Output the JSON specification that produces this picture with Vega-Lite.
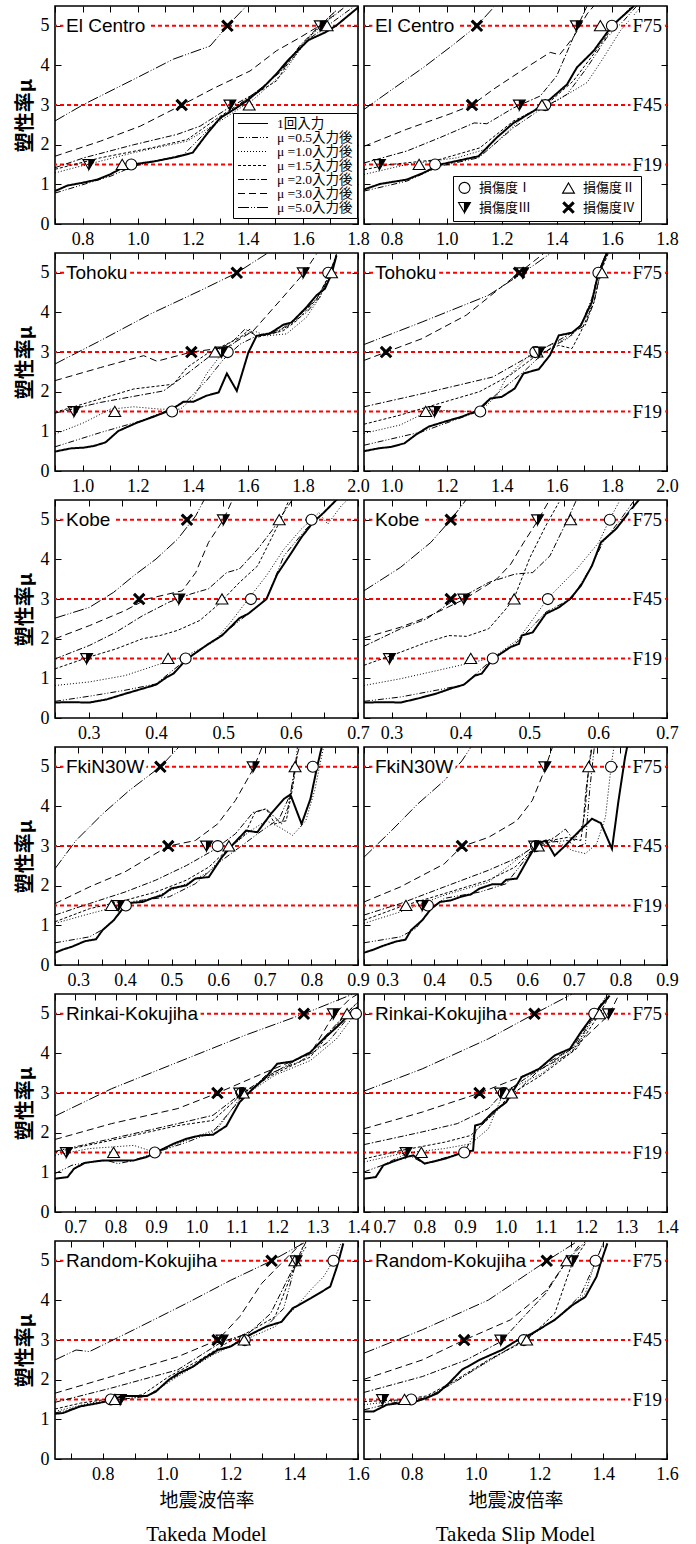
{
  "$schema": "https://vega.github.io/schema/vega-lite/v6.json",
  "background": "white",
  "padding": {"left": 14, "top": 4, "right": 4, "bottom": 4},
  "bounds": "flush",
  "columns": 2,
  "spacing": {"row": 29, "column": 6},
  "resolve": {"scale": {"x": "independent", "y": "independent", "shape": "independent", "fill": "independent", "stroke": "independent", "strokeDash": "independent"}},
  "config": {
    "view": {"stroke": "black", "strokeWidth": 1.6},
    "axis": {"domain": false, "grid": false, "tickColor": "black", "tickWidth": 1, "tickSize": -6, "labelFont": "Liberation Serif", "labelFontSize": 18, "labelColor": "black", "labelPadding": 12, "labelFlush": false, "labelOverlap": false, "labelBound": false, "titleFont": "Noto Sans CJK JP", "titleFontSize": 19, "titleColor": "black", "titleFontWeight": "normal", "titlePadding": 8},
    "axisY": {"titleFontWeight": "bold", "titleFontSize": 20, "titlePadding": 5}
  },
  "datasets": {
    "levels": [{"level": 1.5, "label": "F19"}, {"level": 3, "label": "F45"}, {"level": 5, "label": "F75"}],
    "records": [{"record": "El Centro"}, {"record": "Tohoku"}, {"record": "Kobe"}, {"record": "FkiN30W"}, {"record": "Rinkai-Kokujiha"}, {"record": "Random-Kokujiha"}],
    "elc_t": [
      {"s":"0","x":0.7,"y":0.83},{"s":"0","x":0.745,"y":0.97},{"s":"0","x":0.8,"y":1.04},{"s":"0","x":0.853,"y":1.12},{"s":"0","x":0.9,"y":1.25},{"s":"0","x":0.95,"y":1.44},{"s":"0","x":1.0,"y":1.52},{"s":"0","x":1.06,"y":1.58},{"s":"0","x":1.14,"y":1.69},{"s":"0","x":1.2,"y":1.8},{"s":"0","x":1.25,"y":2.26},{"s":"0","x":1.3,"y":2.68},{"s":"0","x":1.35,"y":2.89},{"s":"0","x":1.395,"y":3.1},{"s":"0","x":1.455,"y":3.44},{"s":"0","x":1.5,"y":3.76},{"s":"0","x":1.55,"y":4.16},{"s":"0","x":1.62,"y":4.64},{"s":"0","x":1.68,"y":4.83},{"s":"0","x":1.72,"y":5.0},{"s":"0","x":1.8,"y":5.46},
      {"s":"0.5","x":0.7,"y":0.78},{"s":"0.5","x":0.9,"y":1.2},{"s":"0.5","x":0.986,"y":1.46},{"s":"0.5","x":1.167,"y":1.75},{"s":"0.5","x":1.275,"y":2.51},{"s":"0.5","x":1.37,"y":3.02},{"s":"0.5","x":1.466,"y":3.52},{"s":"0.5","x":1.55,"y":4.07},{"s":"0.5","x":1.62,"y":4.66},{"s":"0.5","x":1.697,"y":5.04},{"s":"0.5","x":1.78,"y":5.46},
      {"s":"1.0","x":0.7,"y":1.29},{"s":"1.0","x":0.816,"y":1.5},{"s":"1.0","x":0.986,"y":1.8},{"s":"1.0","x":1.18,"y":2.09},{"s":"1.0","x":1.3,"y":2.6},{"s":"1.0","x":1.42,"y":3.14},{"s":"1.0","x":1.53,"y":3.82},{"s":"1.0","x":1.612,"y":4.62},{"s":"1.0","x":1.673,"y":5.04},{"s":"1.0","x":1.745,"y":5.42},
      {"s":"1.5","x":0.7,"y":1.38},{"s":"1.5","x":0.865,"y":1.67},{"s":"1.5","x":1.05,"y":1.92},{"s":"1.5","x":1.18,"y":2.13},{"s":"1.5","x":1.3,"y":2.72},{"s":"1.5","x":1.395,"y":3.14},{"s":"1.5","x":1.504,"y":3.61},{"s":"1.5","x":1.576,"y":4.37},{"s":"1.5","x":1.65,"y":4.92},{"s":"1.5","x":1.72,"y":5.38},
      {"s":"2.0","x":0.7,"y":1.42},{"s":"2.0","x":0.805,"y":1.67},{"s":"2.0","x":0.986,"y":2.0},{"s":"2.0","x":1.143,"y":2.26},{"s":"2.0","x":1.227,"y":2.47},{"s":"2.0","x":1.335,"y":2.95},{"s":"2.0","x":1.42,"y":3.27},{"s":"2.0","x":1.516,"y":3.82},{"s":"2.0","x":1.588,"y":4.49},{"s":"2.0","x":1.66,"y":5.0},{"s":"2.0","x":1.72,"y":5.38},
      {"s":"3.0","x":0.7,"y":1.71},{"s":"3.0","x":0.865,"y":2.09},{"s":"3.0","x":1.01,"y":2.47},{"s":"3.0","x":1.16,"y":3.0},{"s":"3.0","x":1.275,"y":3.42},{"s":"3.0","x":1.408,"y":3.86},{"s":"3.0","x":1.504,"y":4.37},{"s":"3.0","x":1.588,"y":4.7},{"s":"3.0","x":1.66,"y":5.0},{"s":"3.0","x":1.71,"y":5.25},{"s":"3.0","x":1.757,"y":5.5},
      {"s":"5.0","x":0.7,"y":2.6},{"s":"5.0","x":0.805,"y":3.02},{"s":"5.0","x":0.986,"y":3.65},{"s":"5.0","x":1.13,"y":4.16},{"s":"5.0","x":1.263,"y":4.49},{"s":"5.0","x":1.326,"y":5.0},{"s":"5.0","x":1.395,"y":5.5},
      {"d":"損傷度Ⅰ","x":0.977,"y":1.5},
      {"d":"損傷度Ⅱ","x":0.944,"y":1.5},{"d":"損傷度Ⅱ","x":1.405,"y":3},{"d":"損傷度Ⅱ","x":1.688,"y":5},
      {"d":"損傷度Ⅲ","x":0.823,"y":1.5},{"d":"損傷度Ⅲ","x":1.335,"y":3},{"d":"損傷度Ⅲ","x":1.663,"y":5},
      {"d":"損傷度Ⅳ","x":1.16,"y":3},{"d":"損傷度Ⅳ","x":1.326,"y":5}
    ],
    "elc_s": [
      {"s":"0","x":0.7,"y":0.87},{"s":"0","x":0.758,"y":1.01},{"s":"0","x":0.855,"y":1.12},{"s":"0","x":0.916,"y":1.29},{"s":"0","x":0.976,"y":1.5},{"s":"0","x":1.037,"y":1.59},{"s":"0","x":1.116,"y":1.71},{"s":"0","x":1.182,"y":2.18},{"s":"0","x":1.243,"y":2.55},{"s":"0","x":1.316,"y":2.85},{"s":"0","x":1.376,"y":3.15},{"s":"0","x":1.437,"y":3.52},{"s":"0","x":1.473,"y":3.95},{"s":"0","x":1.534,"y":4.37},{"s":"0","x":1.6,"y":5.0},{"s":"0","x":1.68,"y":5.5},
      {"s":"0.5","x":0.7,"y":0.83},{"s":"0.5","x":0.855,"y":1.08},{"s":"0.5","x":0.976,"y":1.46},{"s":"0.5","x":1.116,"y":1.67},{"s":"0.5","x":1.243,"y":2.43},{"s":"0.5","x":1.34,"y":2.89},{"s":"0.5","x":1.437,"y":3.27},{"s":"0.5","x":1.51,"y":3.95},{"s":"0.5","x":1.582,"y":4.71},{"s":"0.5","x":1.643,"y":5.13},{"s":"0.5","x":1.69,"y":5.5},
      {"s":"1.0","x":0.7,"y":1.25},{"s":"1.0","x":0.855,"y":1.5},{"s":"1.0","x":1.037,"y":1.67},{"s":"1.0","x":1.158,"y":1.92},{"s":"1.0","x":1.29,"y":2.77},{"s":"1.0","x":1.388,"y":3.06},{"s":"1.0","x":1.51,"y":3.57},{"s":"1.0","x":1.57,"y":4.2},{"s":"1.0","x":1.63,"y":4.87},{"s":"1.0","x":1.703,"y":5.46},
      {"s":"1.5","x":0.7,"y":1.37},{"s":"1.5","x":0.795,"y":1.5},{"s":"1.5","x":0.976,"y":1.63},{"s":"1.5","x":1.12,"y":1.92},{"s":"1.5","x":1.243,"y":2.6},{"s":"1.5","x":1.364,"y":3.02},{"s":"1.5","x":1.46,"y":3.61},{"s":"1.5","x":1.534,"y":4.29},{"s":"1.5","x":1.607,"y":5.0},{"s":"1.5","x":1.667,"y":5.46},
      {"s":"2.0","x":0.7,"y":1.54},{"s":"2.0","x":0.855,"y":1.84},{"s":"2.0","x":0.976,"y":2.18},{"s":"2.0","x":1.1,"y":2.55},{"s":"2.0","x":1.146,"y":2.53},{"s":"2.0","x":1.243,"y":2.93},{"s":"2.0","x":1.34,"y":3.23},{"s":"2.0","x":1.4,"y":3.74},{"s":"2.0","x":1.46,"y":4.71},{"s":"2.0","x":1.485,"y":5.13},{"s":"2.0","x":1.51,"y":5.5},
      {"s":"3.0","x":0.7,"y":1.96},{"s":"3.0","x":0.855,"y":2.39},{"s":"3.0","x":1.013,"y":2.78},{"s":"3.0","x":1.092,"y":3.0},{"s":"3.0","x":1.17,"y":3.4},{"s":"3.0","x":1.29,"y":3.95},{"s":"3.0","x":1.376,"y":4.33},{"s":"3.0","x":1.41,"y":4.27},{"s":"3.0","x":1.46,"y":4.71},{"s":"3.0","x":1.51,"y":5.3},{"s":"3.0","x":1.534,"y":5.5},
      {"s":"5.0","x":0.7,"y":2.89},{"s":"5.0","x":0.795,"y":3.36},{"s":"5.0","x":0.916,"y":3.95},{"s":"5.0","x":1.02,"y":4.5},{"s":"5.0","x":1.11,"y":5.0},{"s":"5.0","x":1.17,"y":5.46},
      {"d":"損傷度Ⅰ","x":0.958,"y":1.5},{"d":"損傷度Ⅰ","x":1.358,"y":3},{"d":"損傷度Ⅰ","x":1.6,"y":5},
      {"d":"損傷度Ⅱ","x":0.9,"y":1.5},{"d":"損傷度Ⅱ","x":1.346,"y":3},{"d":"損傷度Ⅱ","x":1.558,"y":5},
      {"d":"損傷度Ⅲ","x":0.756,"y":1.5},{"d":"損傷度Ⅲ","x":1.264,"y":3},{"d":"損傷度Ⅲ","x":1.471,"y":5},
      {"d":"損傷度Ⅳ","x":1.092,"y":3},{"d":"損傷度Ⅳ","x":1.11,"y":5}
    ],
    "toh_t": [
      {"s":"0","x":0.9,"y":0.49},{"s":"0","x":0.957,"y":0.57},{"s":"0","x":1.005,"y":0.59},{"s":"0","x":1.04,"y":0.63},{"s":"0","x":1.083,"y":0.72},{"s":"0","x":1.13,"y":1.01},{"s":"0","x":1.198,"y":1.22},{"s":"0","x":1.258,"y":1.37},{"s":"0","x":1.306,"y":1.5},{"s":"0","x":1.343,"y":1.64},{"s":"0","x":1.367,"y":1.75},{"s":"0","x":1.403,"y":1.75},{"s":"0","x":1.45,"y":1.9},{"s":"0","x":1.494,"y":1.98},{"s":"0","x":1.524,"y":2.46},{"s":"0","x":1.56,"y":2.02},{"s":"0","x":1.602,"y":2.99},{"s":"0","x":1.632,"y":3.41},{"s":"0","x":1.68,"y":3.47},{"s":"0","x":1.729,"y":3.69},{"s":"0","x":1.759,"y":3.75},{"s":"0","x":1.813,"y":4.13},{"s":"0","x":1.849,"y":4.43},{"s":"0","x":1.88,"y":4.6},{"s":"0","x":1.904,"y":4.97},{"s":"0","x":1.922,"y":5.44},
      {"s":"0.5","x":0.9,"y":0.61},{"s":"0.5","x":1.065,"y":0.97},{"s":"0.5","x":1.21,"y":1.26},{"s":"0.5","x":1.306,"y":1.52},{"s":"0.5","x":1.379,"y":1.77},{"s":"0.5","x":1.45,"y":2.28},{"s":"0.5","x":1.512,"y":2.82},{"s":"0.5","x":1.572,"y":3.2},{"s":"0.5","x":1.632,"y":3.41},{"s":"0.5","x":1.729,"y":3.58},{"s":"0.5","x":1.813,"y":4.0},{"s":"0.5","x":1.861,"y":4.38},{"s":"0.5","x":1.898,"y":4.97},{"s":"0.5","x":1.922,"y":5.44},
      {"s":"1.0","x":0.9,"y":0.93},{"s":"1.0","x":1.005,"y":1.22},{"s":"1.0","x":1.101,"y":1.56},{"s":"1.0","x":1.186,"y":1.62},{"s":"1.0","x":1.282,"y":1.56},{"s":"1.0","x":1.355,"y":1.56},{"s":"1.0","x":1.403,"y":1.85},{"s":"1.0","x":1.45,"y":2.45},{"s":"1.0","x":1.5,"y":2.91},{"s":"1.0","x":1.572,"y":3.37},{"s":"1.0","x":1.62,"y":3.54},{"s":"1.0","x":1.668,"y":3.41},{"s":"1.0","x":1.741,"y":3.46},{"s":"1.0","x":1.813,"y":3.88},{"s":"1.0","x":1.861,"y":4.38},{"s":"1.0","x":1.898,"y":4.97},{"s":"1.0","x":1.922,"y":5.44},
      {"s":"1.5","x":0.9,"y":1.48},{"s":"1.5","x":1.04,"y":1.77},{"s":"1.5","x":1.186,"y":2.07},{"s":"1.5","x":1.33,"y":2.19},{"s":"1.5","x":1.379,"y":2.61},{"s":"1.5","x":1.45,"y":2.95},{"s":"1.5","x":1.572,"y":3.37},{"s":"1.5","x":1.608,"y":3.58},{"s":"1.5","x":1.632,"y":3.37},{"s":"1.5","x":1.729,"y":3.54},{"s":"1.5","x":1.777,"y":3.79},{"s":"1.5","x":1.85,"y":4.34},{"s":"1.5","x":1.898,"y":4.97},{"s":"1.5","x":1.922,"y":5.44},
      {"s":"2.0","x":0.9,"y":1.46},{"s":"2.0","x":1.065,"y":1.73},{"s":"2.0","x":1.294,"y":2.02},{"s":"2.0","x":1.379,"y":2.45},{"s":"2.0","x":1.481,"y":3.0},{"s":"2.0","x":1.548,"y":3.29},{"s":"2.0","x":1.59,"y":3.58},{"s":"2.0","x":1.632,"y":3.41},{"s":"2.0","x":1.705,"y":3.5},{"s":"2.0","x":1.765,"y":3.79},{"s":"2.0","x":1.85,"y":4.34},{"s":"2.0","x":1.892,"y":4.89},{"s":"2.0","x":1.922,"y":5.48},
      {"s":"3.0","x":0.9,"y":2.28},{"s":"3.0","x":1.065,"y":2.61},{"s":"3.0","x":1.222,"y":2.91},{"s":"3.0","x":1.27,"y":2.77},{"s":"3.0","x":1.395,"y":3.0},{"s":"3.0","x":1.524,"y":3.12},{"s":"3.0","x":1.62,"y":3.54},{"s":"3.0","x":1.717,"y":4.3},{"s":"3.0","x":1.801,"y":4.97},{"s":"3.0","x":1.85,"y":5.48},
      {"s":"5.0","x":0.9,"y":2.7},{"s":"5.0","x":1.065,"y":3.29},{"s":"5.0","x":1.246,"y":3.96},{"s":"5.0","x":1.427,"y":4.55},{"s":"5.0","x":1.56,"y":5.0},{"s":"5.0","x":1.668,"y":5.48},
      {"d":"損傷度Ⅰ","x":1.325,"y":1.5},{"d":"損傷度Ⅰ","x":1.527,"y":3},{"d":"損傷度Ⅰ","x":1.892,"y":5},
      {"d":"損傷度Ⅱ","x":1.117,"y":1.5},{"d":"損傷度Ⅱ","x":1.481,"y":3},{"d":"損傷度Ⅱ","x":1.904,"y":5},
      {"d":"損傷度Ⅲ","x":0.969,"y":1.5},{"d":"損傷度Ⅲ","x":1.505,"y":3},{"d":"損傷度Ⅲ","x":1.801,"y":5},
      {"d":"損傷度Ⅳ","x":1.395,"y":3},{"d":"損傷度Ⅳ","x":1.56,"y":5}
    ],
    "toh_s": [
      {"s":"0","x":0.9,"y":0.5},{"s":"0","x":0.951,"y":0.57},{"s":"0","x":1.0,"y":0.61},{"s":"0","x":1.047,"y":0.7},{"s":"0","x":1.087,"y":0.91},{"s":"0","x":1.135,"y":1.12},{"s":"0","x":1.191,"y":1.24},{"s":"0","x":1.255,"y":1.37},{"s":"0","x":1.311,"y":1.52},{"s":"0","x":1.359,"y":1.83},{"s":"0","x":1.4,"y":1.87},{"s":"0","x":1.447,"y":2.08},{"s":"0","x":1.479,"y":2.46},{"s":"0","x":1.535,"y":2.57},{"s":"0","x":1.575,"y":2.92},{"s":"0","x":1.607,"y":3.42},{"s":"0","x":1.655,"y":3.49},{"s":"0","x":1.687,"y":3.67},{"s":"0","x":1.727,"y":4.26},{"s":"0","x":1.751,"y":5.0},{"s":"0","x":1.786,"y":5.56},
      {"s":"0.5","x":0.9,"y":0.65},{"s":"0.5","x":1.111,"y":0.99},{"s":"0.5","x":1.311,"y":1.49},{"s":"0.5","x":1.383,"y":1.95},{"s":"0.5","x":1.479,"y":2.5},{"s":"0.5","x":1.543,"y":2.92},{"s":"0.5","x":1.591,"y":3.17},{"s":"0.5","x":1.639,"y":3.34},{"s":"0.5","x":1.687,"y":3.67},{"s":"0.5","x":1.727,"y":4.35},{"s":"0.5","x":1.751,"y":5.02},{"s":"0.5","x":1.783,"y":5.56},
      {"s":"1.0","x":0.9,"y":0.95},{"s":"1.0","x":1.031,"y":1.16},{"s":"1.0","x":1.143,"y":1.54},{"s":"1.0","x":1.319,"y":1.49},{"s":"1.0","x":1.383,"y":1.91},{"s":"1.0","x":1.415,"y":2.33},{"s":"1.0","x":1.511,"y":3.0},{"s":"1.0","x":1.591,"y":3.21},{"s":"1.0","x":1.655,"y":3.42},{"s":"1.0","x":1.719,"y":4.01},{"s":"1.0","x":1.751,"y":5.02},{"s":"1.0","x":1.783,"y":5.56},
      {"s":"1.5","x":0.9,"y":1.18},{"s":"1.5","x":1.031,"y":1.41},{"s":"1.5","x":1.191,"y":1.74},{"s":"1.5","x":1.319,"y":2.0},{"s":"1.5","x":1.431,"y":2.42},{"s":"1.5","x":1.527,"y":2.92},{"s":"1.5","x":1.607,"y":3.17},{"s":"1.5","x":1.655,"y":3.09},{"s":"1.5","x":1.687,"y":3.51},{"s":"1.5","x":1.735,"y":4.26},{"s":"1.5","x":1.759,"y":5.02},{"s":"1.5","x":1.791,"y":5.56},
      {"s":"2.0","x":0.9,"y":1.62},{"s":"2.0","x":1.111,"y":1.95},{"s":"2.0","x":1.367,"y":2.37},{"s":"2.0","x":1.527,"y":3.0},{"s":"2.0","x":1.607,"y":3.3},{"s":"2.0","x":1.655,"y":3.49},{"s":"2.0","x":1.703,"y":3.67},{"s":"2.0","x":1.735,"y":4.26},{"s":"2.0","x":1.759,"y":5.02},{"s":"2.0","x":1.783,"y":5.56},
      {"s":"3.0","x":0.9,"y":2.79},{"s":"3.0","x":0.98,"y":3.0},{"s":"3.0","x":1.111,"y":3.34},{"s":"3.0","x":1.271,"y":3.93},{"s":"3.0","x":1.463,"y":5.0},{"s":"3.0","x":1.551,"y":5.48},
      {"s":"5.0","x":0.9,"y":3.19},{"s":"5.0","x":1.111,"y":3.76},{"s":"5.0","x":1.351,"y":4.43},{"s":"5.0","x":1.471,"y":4.97},{"s":"5.0","x":1.575,"y":5.48},
      {"d":"損傷度Ⅰ","x":1.322,"y":1.5},{"d":"損傷度Ⅱ","x":1.528,"y":3},{"d":"損傷度Ⅰ","x":1.522,"y":3},{"d":"損傷度Ⅰ","x":1.751,"y":5},
      {"d":"損傷度Ⅱ","x":1.124,"y":1.5},{"d":"損傷度Ⅱ","x":1.764,"y":5},
      {"d":"損傷度Ⅲ","x":1.156,"y":1.5},{"d":"損傷度Ⅲ","x":1.535,"y":3},{"d":"損傷度Ⅲ","x":1.476,"y":5},
      {"d":"損傷度Ⅳ","x":0.98,"y":3},{"d":"損傷度Ⅳ","x":1.463,"y":5}
    ],
    "kob_t": [
      {"s":"0","x":0.25,"y":0.39},{"s":"0","x":0.268,"y":0.4},{"s":"0","x":0.301,"y":0.39},{"s":"0","x":0.327,"y":0.47},{"s":"0","x":0.354,"y":0.61},{"s":"0","x":0.38,"y":0.74},{"s":"0","x":0.4,"y":0.84},{"s":"0","x":0.416,"y":1.03},{"s":"0","x":0.426,"y":1.12},{"s":"0","x":0.446,"y":1.49},{"s":"0","x":0.478,"y":1.87},{"s":"0","x":0.498,"y":2.08},{"s":"0","x":0.524,"y":2.52},{"s":"0","x":0.537,"y":2.63},{"s":"0","x":0.564,"y":3.0},{"s":"0","x":0.58,"y":3.63},{"s":"0","x":0.6,"y":4.14},{"s":"0","x":0.616,"y":4.56},{"s":"0","x":0.633,"y":4.93},{"s":"0","x":0.649,"y":5.18},{"s":"0","x":0.669,"y":5.52},
      {"s":"0.5","x":0.25,"y":0.42},{"s":"0.5","x":0.301,"y":0.55},{"s":"0.5","x":0.354,"y":0.7},{"s":"0.5","x":0.4,"y":0.86},{"s":"0.5","x":0.446,"y":1.49},{"s":"0.5","x":0.498,"y":2.1},{"s":"0.5","x":0.537,"y":2.63},{"s":"0.5","x":0.564,"y":3.0},{"s":"0.5","x":0.59,"y":4.09},{"s":"0.5","x":0.623,"y":4.77},{"s":"0.5","x":0.655,"y":5.27},{"s":"0.5","x":0.669,"y":5.52},
      {"s":"1.0","x":0.25,"y":0.82},{"s":"1.0","x":0.301,"y":0.91},{"s":"1.0","x":0.354,"y":1.07},{"s":"1.0","x":0.4,"y":1.33},{"s":"1.0","x":0.446,"y":1.58},{"s":"1.0","x":0.485,"y":1.91},{"s":"1.0","x":0.511,"y":2.42},{"s":"1.0","x":0.537,"y":3.0},{"s":"1.0","x":0.564,"y":3.59},{"s":"1.0","x":0.59,"y":4.26},{"s":"1.0","x":0.616,"y":4.77},{"s":"1.0","x":0.642,"y":5.18},{"s":"1.0","x":0.655,"y":4.89},{"s":"1.0","x":0.675,"y":5.35},{"s":"1.0","x":0.688,"y":5.56},
      {"s":"1.5","x":0.25,"y":1.24},{"s":"1.5","x":0.301,"y":1.54},{"s":"1.5","x":0.34,"y":1.74},{"s":"1.5","x":0.38,"y":2.0},{"s":"1.5","x":0.406,"y":2.08},{"s":"1.5","x":0.432,"y":2.21},{"s":"1.5","x":0.465,"y":2.46},{"s":"1.5","x":0.491,"y":2.84},{"s":"1.5","x":0.524,"y":3.42},{"s":"1.5","x":0.551,"y":3.84},{"s":"1.5","x":0.583,"y":4.93},{"s":"1.5","x":0.596,"y":5.44},
      {"s":"2.0","x":0.25,"y":1.49},{"s":"2.0","x":0.301,"y":1.83},{"s":"2.0","x":0.34,"y":2.16},{"s":"2.0","x":0.38,"y":2.58},{"s":"2.0","x":0.419,"y":2.92},{"s":"2.0","x":0.452,"y":3.13},{"s":"2.0","x":0.478,"y":3.26},{"s":"2.0","x":0.505,"y":3.67},{"s":"2.0","x":0.524,"y":3.76},{"s":"2.0","x":0.551,"y":4.26},{"s":"2.0","x":0.574,"y":4.77},{"s":"2.0","x":0.593,"y":5.27},{"s":"2.0","x":0.603,"y":5.52},
      {"s":"3.0","x":0.25,"y":2.0},{"s":"3.0","x":0.301,"y":2.33},{"s":"3.0","x":0.354,"y":2.71},{"s":"3.0","x":0.386,"y":3.0},{"s":"3.0","x":0.439,"y":3.21},{"s":"3.0","x":0.459,"y":3.67},{"s":"3.0","x":0.478,"y":4.43},{"s":"3.0","x":0.5,"y":5.0},{"s":"3.0","x":0.514,"y":5.52},
      {"s":"5.0","x":0.25,"y":2.52},{"s":"5.0","x":0.301,"y":2.79},{"s":"5.0","x":0.337,"y":3.17},{"s":"5.0","x":0.367,"y":3.59},{"s":"5.0","x":0.4,"y":4.01},{"s":"5.0","x":0.432,"y":4.51},{"s":"5.0","x":0.459,"y":5.1},{"s":"5.0","x":0.472,"y":5.52},
      {"d":"損傷度Ⅰ","x":0.444,"y":1.5},{"d":"損傷度Ⅰ","x":0.541,"y":3},{"d":"損傷度Ⅰ","x":0.631,"y":5},
      {"d":"損傷度Ⅱ","x":0.418,"y":1.5},{"d":"損傷度Ⅱ","x":0.498,"y":3},{"d":"損傷度Ⅱ","x":0.583,"y":5},
      {"d":"損傷度Ⅲ","x":0.297,"y":1.5},{"d":"損傷度Ⅲ","x":0.434,"y":3},{"d":"損傷度Ⅲ","x":0.5,"y":5},
      {"d":"損傷度Ⅳ","x":0.375,"y":3},{"d":"損傷度Ⅳ","x":0.446,"y":5}
    ],
    "kob_s": [
      {"s":"0","x":0.26,"y":0.39},{"s":"0","x":0.293,"y":0.4},{"s":"0","x":0.313,"y":0.39},{"s":"0","x":0.338,"y":0.49},{"s":"0","x":0.364,"y":0.61},{"s":"0","x":0.389,"y":0.76},{"s":"0","x":0.405,"y":0.84},{"s":"0","x":0.421,"y":1.07},{"s":"0","x":0.431,"y":1.12},{"s":"0","x":0.447,"y":1.49},{"s":"0","x":0.473,"y":1.79},{"s":"0","x":0.485,"y":1.87},{"s":"0","x":0.489,"y":2.08},{"s":"0","x":0.505,"y":2.16},{"s":"0","x":0.524,"y":2.63},{"s":"0","x":0.543,"y":2.79},{"s":"0","x":0.559,"y":3.0},{"s":"0","x":0.575,"y":3.34},{"s":"0","x":0.591,"y":3.84},{"s":"0","x":0.604,"y":4.43},{"s":"0","x":0.626,"y":4.77},{"s":"0","x":0.652,"y":5.35},{"s":"0","x":0.662,"y":5.56},
      {"s":"0.5","x":0.26,"y":0.42},{"s":"0.5","x":0.313,"y":0.53},{"s":"0.5","x":0.377,"y":0.74},{"s":"0.5","x":0.405,"y":0.84},{"s":"0.5","x":0.447,"y":1.49},{"s":"0.5","x":0.485,"y":1.95},{"s":"0.5","x":0.524,"y":2.67},{"s":"0.5","x":0.562,"y":3.02},{"s":"0.5","x":0.588,"y":3.76},{"s":"0.5","x":0.607,"y":4.43},{"s":"0.5","x":0.633,"y":5.02},{"s":"0.5","x":0.652,"y":5.48},
      {"s":"1.0","x":0.26,"y":0.82},{"s":"1.0","x":0.313,"y":0.99},{"s":"1.0","x":0.377,"y":1.24},{"s":"1.0","x":0.447,"y":1.52},{"s":"1.0","x":0.485,"y":2.0},{"s":"1.0","x":0.527,"y":3.02},{"s":"1.0","x":0.569,"y":3.76},{"s":"1.0","x":0.601,"y":4.43},{"s":"1.0","x":0.617,"y":5.02},{"s":"1.0","x":0.63,"y":5.44},
      {"s":"1.5","x":0.26,"y":1.33},{"s":"1.5","x":0.313,"y":1.66},{"s":"1.5","x":0.351,"y":1.91},{"s":"1.5","x":0.383,"y":2.08},{"s":"1.5","x":0.409,"y":2.06},{"s":"1.5","x":0.441,"y":2.25},{"s":"1.5","x":0.466,"y":2.75},{"s":"1.5","x":0.478,"y":3.02},{"s":"1.5","x":0.501,"y":4.05},{"s":"1.5","x":0.524,"y":4.85},{"s":"1.5","x":0.543,"y":5.44},
      {"s":"2.0","x":0.26,"y":1.81},{"s":"2.0","x":0.313,"y":2.25},{"s":"2.0","x":0.351,"y":2.5},{"s":"2.0","x":0.386,"y":2.92},{"s":"2.0","x":0.415,"y":3.17},{"s":"2.0","x":0.441,"y":3.42},{"s":"2.0","x":0.479,"y":3.63},{"s":"2.0","x":0.505,"y":3.67},{"s":"2.0","x":0.53,"y":4.09},{"s":"2.0","x":0.556,"y":5.02},{"s":"2.0","x":0.569,"y":5.52},
      {"s":"3.0","x":0.26,"y":2.02},{"s":"3.0","x":0.313,"y":2.29},{"s":"3.0","x":0.351,"y":2.54},{"s":"3.0","x":0.405,"y":2.99},{"s":"3.0","x":0.453,"y":3.51},{"s":"3.0","x":0.473,"y":3.88},{"s":"3.0","x":0.492,"y":4.43},{"s":"3.0","x":0.512,"y":4.97},{"s":"3.0","x":0.53,"y":5.52},
      {"s":"5.0","x":0.26,"y":3.21},{"s":"5.0","x":0.313,"y":3.8},{"s":"5.0","x":0.357,"y":4.43},{"s":"5.0","x":0.386,"y":5.0},{"s":"5.0","x":0.409,"y":5.52},
      {"d":"損傷度Ⅰ","x":0.447,"y":1.5},{"d":"損傷度Ⅰ","x":0.527,"y":3},{"d":"損傷度Ⅰ","x":0.617,"y":5},
      {"d":"損傷度Ⅱ","x":0.415,"y":1.5},{"d":"損傷度Ⅱ","x":0.478,"y":3},{"d":"損傷度Ⅱ","x":0.56,"y":5},
      {"d":"損傷度Ⅲ","x":0.297,"y":1.5},{"d":"損傷度Ⅲ","x":0.405,"y":3},{"d":"損傷度Ⅲ","x":0.512,"y":5},
      {"d":"損傷度Ⅳ","x":0.386,"y":3},{"d":"損傷度Ⅳ","x":0.386,"y":5}
    ],
    "fki_t": [
      {"s":"0","x":0.25,"y":0.31},{"s":"0","x":0.267,"y":0.39},{"s":"0","x":0.286,"y":0.46},{"s":"0","x":0.314,"y":0.6},{"s":"0","x":0.338,"y":0.65},{"s":"0","x":0.352,"y":0.88},{"s":"0","x":0.376,"y":1.13},{"s":"0","x":0.395,"y":1.42},{"s":"0","x":0.414,"y":1.57},{"s":"0","x":0.438,"y":1.59},{"s":"0","x":0.457,"y":1.68},{"s":"0","x":0.48,"y":1.76},{"s":"0","x":0.499,"y":1.93},{"s":"0","x":0.532,"y":2.01},{"s":"0","x":0.551,"y":2.18},{"s":"0","x":0.58,"y":2.22},{"s":"0","x":0.608,"y":2.72},{"s":"0","x":0.633,"y":3.06},{"s":"0","x":0.66,"y":3.39},{"s":"0","x":0.684,"y":3.35},{"s":"0","x":0.713,"y":3.81},{"s":"0","x":0.741,"y":4.19},{"s":"0","x":0.755,"y":4.3},{"s":"0","x":0.779,"y":3.56},{"s":"0","x":0.798,"y":4.19},{"s":"0","x":0.812,"y":4.98},{"s":"0","x":0.822,"y":5.49},
      {"s":"0.5","x":0.25,"y":0.56},{"s":"0.5","x":0.324,"y":0.71},{"s":"0.5","x":0.362,"y":0.96},{"s":"0.5","x":0.395,"y":1.38},{"s":"0.5","x":0.419,"y":1.61},{"s":"0.5","x":0.495,"y":1.72},{"s":"0.5","x":0.551,"y":2.05},{"s":"0.5","x":0.608,"y":2.64},{"s":"0.5","x":0.646,"y":2.97},{"s":"0.5","x":0.694,"y":3.39},{"s":"0.5","x":0.731,"y":3.69},{"s":"0.5","x":0.755,"y":4.31},{"s":"0.5","x":0.765,"y":4.98},{"s":"0.5","x":0.77,"y":5.49},
      {"s":"1.0","x":0.25,"y":1.05},{"s":"1.0","x":0.314,"y":1.26},{"s":"1.0","x":0.381,"y":1.47},{"s":"1.0","x":0.457,"y":1.68},{"s":"1.0","x":0.532,"y":2.05},{"s":"1.0","x":0.58,"y":2.35},{"s":"1.0","x":0.627,"y":2.97},{"s":"1.0","x":0.665,"y":3.35},{"s":"1.0","x":0.703,"y":3.64},{"s":"1.0","x":0.731,"y":3.48},{"s":"1.0","x":0.76,"y":3.27},{"s":"1.0","x":0.788,"y":3.64},{"s":"1.0","x":0.807,"y":4.4},{"s":"1.0","x":0.817,"y":4.98},{"s":"1.0","x":0.826,"y":5.49},
      {"s":"1.5","x":0.25,"y":1.09},{"s":"1.5","x":0.324,"y":1.42},{"s":"1.5","x":0.4,"y":1.63},{"s":"1.5","x":0.466,"y":1.84},{"s":"1.5","x":0.532,"y":2.14},{"s":"1.5","x":0.58,"y":2.47},{"s":"1.5","x":0.618,"y":2.89},{"s":"1.5","x":0.656,"y":3.27},{"s":"1.5","x":0.679,"y":3.85},{"s":"1.5","x":0.703,"y":3.94},{"s":"1.5","x":0.722,"y":3.56},{"s":"1.5","x":0.746,"y":3.64},{"s":"1.5","x":0.76,"y":4.48},{"s":"1.5","x":0.77,"y":5.32},
      {"s":"2.0","x":0.25,"y":1.26},{"s":"2.0","x":0.324,"y":1.55},{"s":"2.0","x":0.4,"y":1.84},{"s":"2.0","x":0.466,"y":2.14},{"s":"2.0","x":0.532,"y":2.51},{"s":"2.0","x":0.589,"y":2.89},{"s":"2.0","x":0.637,"y":3.31},{"s":"2.0","x":0.675,"y":3.85},{"s":"2.0","x":0.703,"y":3.94},{"s":"2.0","x":0.736,"y":3.56},{"s":"2.0","x":0.75,"y":3.98},{"s":"2.0","x":0.76,"y":4.65},{"s":"2.0","x":0.77,"y":5.32},{"s":"2.0","x":0.774,"y":5.49},
      {"s":"3.0","x":0.25,"y":1.55},{"s":"3.0","x":0.324,"y":1.97},{"s":"3.0","x":0.4,"y":2.35},{"s":"3.0","x":0.493,"y":3.0},{"s":"3.0","x":0.551,"y":3.14},{"s":"3.0","x":0.599,"y":3.56},{"s":"3.0","x":0.637,"y":4.15},{"s":"3.0","x":0.675,"y":4.94},{"s":"3.0","x":0.694,"y":5.49},
      {"s":"5.0","x":0.25,"y":2.43},{"s":"5.0","x":0.295,"y":3.14},{"s":"5.0","x":0.352,"y":3.81},{"s":"5.0","x":0.409,"y":4.4},{"s":"5.0","x":0.476,"y":5.0},{"s":"5.0","x":0.515,"y":5.49},
      {"d":"損傷度Ⅰ","x":0.402,"y":1.5},{"d":"損傷度Ⅰ","x":0.599,"y":3},{"d":"損傷度Ⅰ","x":0.803,"y":5},
      {"d":"損傷度Ⅱ","x":0.371,"y":1.5},{"d":"損傷度Ⅱ","x":0.623,"y":3},{"d":"損傷度Ⅱ","x":0.765,"y":5},
      {"d":"損傷度Ⅲ","x":0.386,"y":1.5},{"d":"損傷度Ⅲ","x":0.575,"y":3},{"d":"損傷度Ⅲ","x":0.675,"y":5},
      {"d":"損傷度Ⅳ","x":0.493,"y":3},{"d":"損傷度Ⅳ","x":0.476,"y":5}
    ],
    "fki_s": [
      {"s":"0","x":0.25,"y":0.31},{"s":"0","x":0.271,"y":0.39},{"s":"0","x":0.29,"y":0.48},{"s":"0","x":0.318,"y":0.59},{"s":"0","x":0.339,"y":0.64},{"s":"0","x":0.351,"y":0.88},{"s":"0","x":0.375,"y":1.13},{"s":"0","x":0.394,"y":1.42},{"s":"0","x":0.413,"y":1.59},{"s":"0","x":0.436,"y":1.63},{"s":"0","x":0.46,"y":1.73},{"s":"0","x":0.479,"y":1.78},{"s":"0","x":0.498,"y":1.93},{"s":"0","x":0.526,"y":2.04},{"s":"0","x":0.545,"y":2.04},{"s":"0","x":0.555,"y":2.15},{"s":"0","x":0.578,"y":2.18},{"s":"0","x":0.602,"y":2.68},{"s":"0","x":0.621,"y":3.06},{"s":"0","x":0.64,"y":3.14},{"s":"0","x":0.659,"y":2.76},{"s":"0","x":0.678,"y":2.97},{"s":"0","x":0.706,"y":3.31},{"s":"0","x":0.739,"y":3.69},{"s":"0","x":0.758,"y":3.58},{"s":"0","x":0.782,"y":2.93},{"s":"0","x":0.796,"y":4.15},{"s":"0","x":0.81,"y":5.24},{"s":"0","x":0.815,"y":5.53},
      {"s":"0.5","x":0.25,"y":0.56},{"s":"0.5","x":0.328,"y":0.71},{"s":"0.5","x":0.361,"y":0.92},{"s":"0.5","x":0.394,"y":1.42},{"s":"0.5","x":0.422,"y":1.68},{"s":"0.5","x":0.498,"y":1.84},{"s":"0.5","x":0.555,"y":2.05},{"s":"0.5","x":0.611,"y":2.89},{"s":"0.5","x":0.649,"y":3.1},{"s":"0.5","x":0.687,"y":3.14},{"s":"0.5","x":0.706,"y":2.97},{"s":"0.5","x":0.725,"y":3.06},{"s":"0.5","x":0.734,"y":4.4},{"s":"0.5","x":0.744,"y":5.49},
      {"s":"1.0","x":0.25,"y":1.05},{"s":"1.0","x":0.328,"y":1.34},{"s":"1.0","x":0.422,"y":1.76},{"s":"1.0","x":0.517,"y":2.09},{"s":"1.0","x":0.611,"y":2.97},{"s":"1.0","x":0.659,"y":3.14},{"s":"1.0","x":0.697,"y":2.89},{"s":"1.0","x":0.725,"y":2.81},{"s":"1.0","x":0.749,"y":3.06},{"s":"1.0","x":0.768,"y":3.73},{"s":"1.0","x":0.78,"y":5.0},{"s":"1.0","x":0.786,"y":5.49},
      {"s":"1.5","x":0.25,"y":1.13},{"s":"1.5","x":0.328,"y":1.47},{"s":"1.5","x":0.422,"y":1.8},{"s":"1.5","x":0.517,"y":2.14},{"s":"1.5","x":0.574,"y":2.47},{"s":"1.5","x":0.616,"y":2.97},{"s":"1.5","x":0.649,"y":3.14},{"s":"1.5","x":0.687,"y":3.22},{"s":"1.5","x":0.715,"y":3.14},{"s":"1.5","x":0.725,"y":3.98},{"s":"1.5","x":0.732,"y":5.0},{"s":"1.5","x":0.738,"y":5.49},
      {"s":"2.0","x":0.25,"y":1.26},{"s":"2.0","x":0.328,"y":1.55},{"s":"2.0","x":0.422,"y":1.97},{"s":"2.0","x":0.517,"y":2.39},{"s":"2.0","x":0.574,"y":2.68},{"s":"2.0","x":0.616,"y":2.99},{"s":"2.0","x":0.659,"y":3.22},{"s":"2.0","x":0.682,"y":3.43},{"s":"2.0","x":0.701,"y":3.14},{"s":"2.0","x":0.72,"y":3.56},{"s":"2.0","x":0.726,"y":4.4},{"s":"2.0","x":0.733,"y":5.0},{"s":"2.0","x":0.739,"y":5.49},
      {"s":"3.0","x":0.25,"y":1.59},{"s":"3.0","x":0.328,"y":1.97},{"s":"3.0","x":0.422,"y":2.55},{"s":"3.0","x":0.46,"y":2.99},{"s":"3.0","x":0.517,"y":3.22},{"s":"3.0","x":0.578,"y":3.64},{"s":"3.0","x":0.611,"y":4.15},{"s":"3.0","x":0.638,"y":4.94},{"s":"3.0","x":0.654,"y":5.49},
      {"s":"5.0","x":0.25,"y":2.72},{"s":"5.0","x":0.309,"y":3.39},{"s":"5.0","x":0.365,"y":4.06},{"s":"5.0","x":0.422,"y":4.65},{"s":"5.0","x":0.46,"y":5.15},{"s":"5.0","x":0.479,"y":5.49},
      {"d":"損傷度Ⅰ","x":0.387,"y":1.5},{"d":"損傷度Ⅰ","x":0.619,"y":3},{"d":"損傷度Ⅰ","x":0.78,"y":5},
      {"d":"損傷度Ⅱ","x":0.34,"y":1.5},{"d":"損傷度Ⅱ","x":0.624,"y":3},{"d":"損傷度Ⅱ","x":0.732,"y":5},
      {"d":"損傷度Ⅲ","x":0.375,"y":1.5},{"d":"損傷度Ⅲ","x":0.616,"y":3},{"d":"損傷度Ⅲ","x":0.638,"y":5},
      {"d":"損傷度Ⅳ","x":0.46,"y":3}
    ],
    "rin_t": [
      {"s":"0","x":0.65,"y":0.84},{"s":"0","x":0.681,"y":0.88},{"s":"0","x":0.697,"y":1.09},{"s":"0","x":0.724,"y":1.24},{"s":"0","x":0.768,"y":1.3},{"s":"0","x":0.845,"y":1.3},{"s":"0","x":0.877,"y":1.39},{"s":"0","x":0.899,"y":1.5},{"s":"0","x":0.943,"y":1.72},{"s":"0","x":0.976,"y":1.85},{"s":"0","x":1.009,"y":1.93},{"s":"0","x":1.041,"y":1.95},{"s":"0","x":1.074,"y":2.17},{"s":"0","x":1.107,"y":2.77},{"s":"0","x":1.14,"y":3.11},{"s":"0","x":1.172,"y":3.4},{"s":"0","x":1.2,"y":3.74},{"s":"0","x":1.238,"y":3.8},{"s":"0","x":1.282,"y":4.03},{"s":"0","x":1.315,"y":4.37},{"s":"0","x":1.347,"y":4.66},{"s":"0","x":1.38,"y":5.0},{"s":"0","x":1.4,"y":5.17},
      {"s":"0.5","x":0.65,"y":0.97},{"s":"0.5","x":0.692,"y":1.18},{"s":"0.5","x":0.735,"y":1.26},{"s":"0.5","x":0.779,"y":1.3},{"s":"0.5","x":0.806,"y":1.22},{"s":"0.5","x":0.845,"y":1.3},{"s":"0.5","x":0.899,"y":1.5},{"s":"0.5","x":0.976,"y":1.76},{"s":"0.5","x":1.041,"y":2.02},{"s":"0.5","x":1.096,"y":2.69},{"s":"0.5","x":1.172,"y":3.45},{"s":"0.5","x":1.26,"y":3.82},{"s":"0.5","x":1.326,"y":4.29},{"s":"0.5","x":1.38,"y":4.96},{"s":"0.5","x":1.4,"y":5.13},
      {"s":"1.0","x":0.65,"y":1.43},{"s":"1.0","x":0.735,"y":1.6},{"s":"1.0","x":0.845,"y":1.68},{"s":"1.0","x":0.899,"y":1.5},{"s":"1.0","x":0.976,"y":1.81},{"s":"1.0","x":1.052,"y":2.1},{"s":"1.0","x":1.107,"y":2.86},{"s":"1.0","x":1.194,"y":3.45},{"s":"1.0","x":1.282,"y":3.82},{"s":"1.0","x":1.347,"y":4.37},{"s":"1.0","x":1.395,"y":5.03},{"s":"1.0","x":1.4,"y":5.1},
      {"s":"1.5","x":0.65,"y":1.51},{"s":"1.5","x":0.79,"y":1.81},{"s":"1.5","x":0.954,"y":2.18},{"s":"1.5","x":1.041,"y":2.31},{"s":"1.5","x":1.116,"y":3.0},{"s":"1.5","x":1.194,"y":3.49},{"s":"1.5","x":1.282,"y":3.91},{"s":"1.5","x":1.373,"y":5.03},{"s":"1.5","x":1.4,"y":5.3},
      {"s":"2.0","x":0.65,"y":1.53},{"s":"2.0","x":0.79,"y":1.85},{"s":"2.0","x":0.954,"y":2.23},{"s":"2.0","x":1.041,"y":2.44},{"s":"2.0","x":1.107,"y":2.96},{"s":"2.0","x":1.194,"y":3.53},{"s":"2.0","x":1.282,"y":4.03},{"s":"2.0","x":1.373,"y":5.03},{"s":"2.0","x":1.4,"y":5.29},
      {"s":"3.0","x":0.65,"y":1.83},{"s":"3.0","x":0.79,"y":2.23},{"s":"3.0","x":0.954,"y":2.61},{"s":"3.0","x":1.052,"y":3.0},{"s":"3.0","x":1.172,"y":3.53},{"s":"3.0","x":1.282,"y":3.99},{"s":"3.0","x":1.339,"y":4.96},{"s":"3.0","x":1.38,"y":5.38},{"s":"3.0","x":1.4,"y":5.5},
      {"s":"5.0","x":0.65,"y":2.42},{"s":"5.0","x":0.79,"y":3.11},{"s":"5.0","x":0.954,"y":3.78},{"s":"5.0","x":1.118,"y":4.45},{"s":"5.0","x":1.266,"y":5.0},{"s":"5.0","x":1.4,"y":5.55},
      {"d":"損傷度Ⅰ","x":0.897,"y":1.5},{"d":"損傷度Ⅰ","x":1.112,"y":3},{"d":"損傷度Ⅰ","x":1.395,"y":5},
      {"d":"損傷度Ⅱ","x":0.795,"y":1.5},{"d":"損傷度Ⅱ","x":1.116,"y":3},{"d":"損傷度Ⅱ","x":1.373,"y":5},
      {"d":"損傷度Ⅲ","x":0.678,"y":1.5},{"d":"損傷度Ⅲ","x":1.107,"y":3},{"d":"損傷度Ⅲ","x":1.339,"y":5},
      {"d":"損傷度Ⅳ","x":1.052,"y":3},{"d":"損傷度Ⅳ","x":1.266,"y":5}
    ],
    "rin_s": [
      {"s":"0","x":0.65,"y":0.84},{"s":"0","x":0.679,"y":0.88},{"s":"0","x":0.698,"y":1.18},{"s":"0","x":0.729,"y":1.3},{"s":"0","x":0.756,"y":1.39},{"s":"0","x":0.772,"y":1.43},{"s":"0","x":0.8,"y":1.22},{"s":"0","x":0.849,"y":1.34},{"s":"0","x":0.898,"y":1.51},{"s":"0","x":0.92,"y":1.55},{"s":"0","x":0.925,"y":2.18},{"s":"0","x":0.941,"y":2.23},{"s":"0","x":0.969,"y":2.52},{"s":"0","x":1.002,"y":2.77},{"s":"0","x":1.04,"y":3.4},{"s":"0","x":1.083,"y":3.61},{"s":"0","x":1.122,"y":3.95},{"s":"0","x":1.16,"y":4.12},{"s":"0","x":1.187,"y":4.54},{"s":"0","x":1.22,"y":5.0},{"s":"0","x":1.258,"y":5.46},
      {"s":"0.5","x":0.65,"y":1.01},{"s":"0.5","x":0.696,"y":1.18},{"s":"0.5","x":0.754,"y":1.47},{"s":"0.5","x":0.8,"y":1.22},{"s":"0.5","x":0.898,"y":1.51},{"s":"0.5","x":0.931,"y":2.1},{"s":"0.5","x":1.002,"y":2.77},{"s":"0.5","x":1.078,"y":3.53},{"s":"0.5","x":1.165,"y":4.12},{"s":"0.5","x":1.22,"y":5.0},{"s":"0.5","x":1.253,"y":5.5},
      {"s":"1.0","x":0.65,"y":1.26},{"s":"1.0","x":0.74,"y":1.47},{"s":"1.0","x":0.849,"y":1.6},{"s":"1.0","x":0.914,"y":1.72},{"s":"1.0","x":0.958,"y":2.1},{"s":"1.0","x":0.996,"y":3.03},{"s":"1.0","x":1.089,"y":3.49},{"s":"1.0","x":1.176,"y":4.16},{"s":"1.0","x":1.225,"y":5.0},{"s":"1.0","x":1.253,"y":5.46},
      {"s":"1.5","x":0.65,"y":1.34},{"s":"1.5","x":0.74,"y":1.55},{"s":"1.5","x":0.849,"y":1.76},{"s":"1.5","x":0.914,"y":1.93},{"s":"1.5","x":0.958,"y":2.35},{"s":"1.5","x":1.015,"y":2.98},{"s":"1.5","x":1.089,"y":3.45},{"s":"1.5","x":1.176,"y":4.12},{"s":"1.5","x":1.233,"y":5.0},{"s":"1.5","x":1.258,"y":5.46},
      {"s":"2.0","x":0.65,"y":1.7},{"s":"2.0","x":0.794,"y":2.02},{"s":"2.0","x":0.881,"y":2.23},{"s":"2.0","x":0.958,"y":2.61},{"s":"2.0","x":0.988,"y":2.94},{"s":"2.0","x":1.067,"y":3.49},{"s":"2.0","x":1.165,"y":4.03},{"s":"2.0","x":1.22,"y":4.96},{"s":"2.0","x":1.253,"y":5.46},
      {"s":"3.0","x":0.65,"y":2.1},{"s":"3.0","x":0.794,"y":2.52},{"s":"3.0","x":0.936,"y":3.0},{"s":"3.0","x":1.067,"y":3.53},{"s":"3.0","x":1.176,"y":4.2},{"s":"3.0","x":1.255,"y":4.96},{"s":"3.0","x":1.28,"y":5.46},
      {"s":"5.0","x":0.65,"y":3.05},{"s":"5.0","x":0.794,"y":3.61},{"s":"5.0","x":0.958,"y":4.37},{"s":"5.0","x":1.072,"y":5.0},{"s":"5.0","x":1.165,"y":5.5},
      {"d":"損傷度Ⅰ","x":0.898,"y":1.5},{"d":"損傷度Ⅰ","x":0.996,"y":3},{"d":"損傷度Ⅰ","x":1.22,"y":5},
      {"d":"損傷度Ⅱ","x":0.792,"y":1.5},{"d":"損傷度Ⅱ","x":1.015,"y":3},{"d":"損傷度Ⅱ","x":1.233,"y":5},
      {"d":"損傷度Ⅲ","x":0.754,"y":1.5},{"d":"損傷度Ⅲ","x":0.988,"y":3},{"d":"損傷度Ⅲ","x":1.255,"y":5},
      {"d":"損傷度Ⅳ","x":0.936,"y":3},{"d":"損傷度Ⅳ","x":1.072,"y":5}
    ],
    "ran_t": [
      {"s":"0","x":0.65,"y":1.14},{"s":"0","x":0.675,"y":1.16},{"s":"0","x":0.73,"y":1.33},{"s":"0","x":0.786,"y":1.41},{"s":"0","x":0.827,"y":1.49},{"s":"0","x":0.862,"y":1.59},{"s":"0","x":0.938,"y":1.59},{"s":"0","x":0.966,"y":1.7},{"s":"0","x":1.007,"y":2.0},{"s":"0","x":1.035,"y":2.15},{"s":"0","x":1.083,"y":2.33},{"s":"0","x":1.118,"y":2.54},{"s":"0","x":1.16,"y":2.75},{"s":"0","x":1.201,"y":2.84},{"s":"0","x":1.25,"y":3.09},{"s":"0","x":1.312,"y":3.34},{"s":"0","x":1.36,"y":3.46},{"s":"0","x":1.395,"y":3.8},{"s":"0","x":1.451,"y":4.05},{"s":"0","x":1.513,"y":4.35},{"s":"0","x":1.534,"y":4.85},{"s":"0","x":1.554,"y":5.44},
      {"s":"0.5","x":0.65,"y":1.16},{"s":"0.5","x":0.758,"y":1.37},{"s":"0.5","x":0.841,"y":1.49},{"s":"0.5","x":0.938,"y":1.58},{"s":"0.5","x":1.021,"y":2.04},{"s":"0.5","x":1.118,"y":2.54},{"s":"0.5","x":1.215,"y":2.92},{"s":"0.5","x":1.312,"y":3.34},{"s":"0.5","x":1.367,"y":3.8},{"s":"0.5","x":1.406,"y":4.97},{"s":"0.5","x":1.437,"y":5.48},
      {"s":"1.0","x":0.65,"y":1.2},{"s":"1.0","x":0.758,"y":1.41},{"s":"1.0","x":0.841,"y":1.49},{"s":"1.0","x":0.938,"y":1.58},{"s":"1.0","x":1.035,"y":2.08},{"s":"1.0","x":1.146,"y":2.63},{"s":"1.0","x":1.243,"y":3.0},{"s":"1.0","x":1.34,"y":3.34},{"s":"1.0","x":1.402,"y":3.8},{"s":"1.0","x":1.451,"y":4.26},{"s":"1.0","x":1.492,"y":4.6},{"s":"1.0","x":1.523,"y":5.0},{"s":"1.0","x":1.547,"y":5.44},
      {"s":"1.5","x":0.65,"y":1.26},{"s":"1.5","x":0.73,"y":1.41},{"s":"1.5","x":0.841,"y":1.54},{"s":"1.5","x":0.924,"y":1.62},{"s":"1.5","x":1.007,"y":2.08},{"s":"1.5","x":1.104,"y":2.5},{"s":"1.5","x":1.187,"y":2.92},{"s":"1.5","x":1.27,"y":3.26},{"s":"1.5","x":1.34,"y":3.59},{"s":"1.5","x":1.406,"y":4.97},{"s":"1.5","x":1.43,"y":5.4},
      {"s":"2.0","x":0.65,"y":1.43},{"s":"2.0","x":0.827,"y":1.79},{"s":"2.0","x":1.035,"y":2.25},{"s":"2.0","x":1.174,"y":2.96},{"s":"2.0","x":1.257,"y":3.17},{"s":"2.0","x":1.326,"y":3.67},{"s":"2.0","x":1.406,"y":4.97},{"s":"2.0","x":1.437,"y":5.35},
      {"s":"3.0","x":0.65,"y":1.66},{"s":"3.0","x":0.827,"y":2.08},{"s":"3.0","x":1.035,"y":2.58},{"s":"3.0","x":1.16,"y":3.0},{"s":"3.0","x":1.229,"y":3.59},{"s":"3.0","x":1.298,"y":4.43},{"s":"3.0","x":1.367,"y":5.0},{"s":"3.0","x":1.423,"y":5.44},
      {"s":"5.0","x":0.65,"y":2.5},{"s":"5.0","x":0.716,"y":2.75},{"s":"5.0","x":0.758,"y":2.71},{"s":"5.0","x":0.897,"y":3.26},{"s":"5.0","x":1.063,"y":3.93},{"s":"5.0","x":1.201,"y":4.51},{"s":"5.0","x":1.329,"y":5.0},{"s":"5.0","x":1.437,"y":5.48},
      {"d":"損傷度Ⅰ","x":0.825,"y":1.5},{"d":"損傷度Ⅰ","x":1.245,"y":3},{"d":"損傷度Ⅰ","x":1.523,"y":5},
      {"d":"損傷度Ⅱ","x":0.838,"y":1.5},{"d":"損傷度Ⅱ","x":1.243,"y":3},{"d":"損傷度Ⅱ","x":1.402,"y":5},
      {"d":"損傷度Ⅲ","x":0.855,"y":1.5},{"d":"損傷度Ⅲ","x":1.174,"y":3},{"d":"損傷度Ⅲ","x":1.406,"y":5},
      {"d":"損傷度Ⅳ","x":1.16,"y":3},{"d":"損傷度Ⅳ","x":1.329,"y":5}
    ],
    "ran_s": [
      {"s":"0","x":0.65,"y":1.2},{"s":"0","x":0.68,"y":1.2},{"s":"0","x":0.722,"y":1.37},{"s":"0","x":0.763,"y":1.41},{"s":"0","x":0.805,"y":1.43},{"s":"0","x":0.846,"y":1.54},{"s":"0","x":0.881,"y":1.66},{"s":"0","x":0.916,"y":1.91},{"s":"0","x":0.957,"y":2.25},{"s":"0","x":1.012,"y":2.5},{"s":"0","x":1.082,"y":2.75},{"s":"0","x":1.123,"y":2.96},{"s":"0","x":1.178,"y":3.17},{"s":"0","x":1.248,"y":3.51},{"s":"0","x":1.303,"y":3.88},{"s":"0","x":1.344,"y":4.09},{"s":"0","x":1.379,"y":4.6},{"s":"0","x":1.393,"y":4.97},{"s":"0","x":1.413,"y":5.44},
      {"s":"0.5","x":0.65,"y":1.24},{"s":"0.5","x":0.736,"y":1.41},{"s":"0.5","x":0.846,"y":1.54},{"s":"0.5","x":0.929,"y":1.91},{"s":"0.5","x":1.04,"y":2.48},{"s":"0.5","x":1.151,"y":3.0},{"s":"0.5","x":1.261,"y":3.59},{"s":"0.5","x":1.33,"y":4.14},{"s":"0.5","x":1.376,"y":4.97},{"s":"0.5","x":1.4,"y":5.44},
      {"s":"1.0","x":0.65,"y":1.37},{"s":"1.0","x":0.736,"y":1.45},{"s":"1.0","x":0.846,"y":1.56},{"s":"1.0","x":0.943,"y":1.99},{"s":"1.0","x":1.04,"y":2.46},{"s":"1.0","x":1.151,"y":3.0},{"s":"1.0","x":1.275,"y":3.67},{"s":"1.0","x":1.344,"y":4.18},{"s":"1.0","x":1.376,"y":5.0},{"s":"1.0","x":1.4,"y":5.44},
      {"s":"1.5","x":0.65,"y":1.45},{"s":"1.5","x":0.763,"y":1.49},{"s":"1.5","x":0.846,"y":1.59},{"s":"1.5","x":0.929,"y":1.95},{"s":"1.5","x":1.04,"y":2.5},{"s":"1.5","x":1.16,"y":3.0},{"s":"1.5","x":1.248,"y":3.67},{"s":"1.5","x":1.303,"y":4.95},{"s":"1.5","x":1.344,"y":5.44},
      {"s":"2.0","x":0.65,"y":1.68},{"s":"2.0","x":0.833,"y":2.08},{"s":"2.0","x":0.971,"y":2.5},{"s":"2.0","x":1.079,"y":2.96},{"s":"2.0","x":1.151,"y":3.59},{"s":"2.0","x":1.22,"y":4.18},{"s":"2.0","x":1.286,"y":5.0},{"s":"2.0","x":1.344,"y":5.48},
      {"s":"3.0","x":0.65,"y":2.01},{"s":"3.0","x":0.833,"y":2.5},{"s":"3.0","x":0.964,"y":3.0},{"s":"3.0","x":1.109,"y":3.51},{"s":"3.0","x":1.223,"y":4.26},{"s":"3.0","x":1.286,"y":5.0},{"s":"3.0","x":1.33,"y":5.44},
      {"s":"5.0","x":0.65,"y":2.67},{"s":"5.0","x":0.833,"y":3.26},{"s":"5.0","x":1.04,"y":4.01},{"s":"5.0","x":1.223,"y":5.0},{"s":"5.0","x":1.317,"y":5.48},
      {"d":"損傷度Ⅰ","x":0.798,"y":1.5},{"d":"損傷度Ⅰ","x":1.151,"y":3},{"d":"損傷度Ⅰ","x":1.376,"y":5},
      {"d":"損傷度Ⅱ","x":0.777,"y":1.5},{"d":"損傷度Ⅱ","x":1.16,"y":3},{"d":"損傷度Ⅱ","x":1.286,"y":5},
      {"d":"損傷度Ⅲ","x":0.708,"y":1.5},{"d":"損傷度Ⅲ","x":1.079,"y":3},{"d":"損傷度Ⅲ","x":1.303,"y":5},
      {"d":"損傷度Ⅳ","x":0.964,"y":3},{"d":"損傷度Ⅳ","x":1.223,"y":5}
    ]
  },
  "concat": [
    {
      "width": 303, "height": 218,
      "resolve": {"axis": {"x": "independent", "y": "independent"}},
      "layer": [
        {"data": {"name": "levels"}, "mark": {"type": "rule", "stroke": "#ff0000", "strokeWidth": 2, "strokeDash": [4, 3]}, "encoding": {"y": {"field": "level", "type": "quantitative", "axis": null}}},
        {"data": {"name": "elc_t"}, "transform": [{"filter": "isValid(datum.s)"}], "mark": {"type": "line", "clip": true, "color": "black"},
         "encoding": {
           "x": {"field": "x", "type": "quantitative", "scale": {"domain": [0.7, 1.8], "nice": false, "zero": false}, "axis": {"orient": "bottom", "values": [0.7,0.8,0.9,1.0,1.1,1.2,1.3,1.4,1.5,1.6,1.7,1.8], "labelExpr": "abs(datum.value*5-round(datum.value*5))<0.001 ? format(datum.value,'.1f') : ''", "title": null}},
           "y": {"field": "y", "type": "quantitative", "scale": {"domain": [0, 5.5], "nice": false}, "axis": {"orient": "left", "values": [0,1,2,3,4,5], "title": "塑性率μ"}},
           "strokeDash": {"field": "s", "type": "nominal", "scale": {"domain": ["0","0.5","1.0","1.5","2.0","3.0","5.0"], "range": [[1,0],[6,2,1,2,1,2],[1,2],[3,2],[6,2,1.5,2],[7,4],[11,2,1,2,1,2]]},
             "legend": {"orient": "none", "legendX": 178, "legendY": 107, "title": null, "symbolType": "stroke", "symbolSize": 900, "symbolStrokeColor": "black", "symbolStrokeWidth": 1.2, "clipHeight": 13, "rowPadding": 0, "labelOffset": 8, "labelFont": "Liberation Serif, Noto Sans CJK JP", "labelFontSize": 13.5, "labelColor": "black", "strokeColor": "black", "fillColor": "white", "padding": 4,
               "labelExpr": "datum.label === '0' ? '1回入力' : 'μ =' + datum.label + '入力後'"}},
           "strokeWidth": {"condition": {"test": "datum.s === '0'", "value": 2}, "value": 1}
         }},
        {"data": {"name": "elc_t"}, "transform": [{"filter": "isValid(datum.d)"}], "mark": {"type": "point", "filled": true, "strokeWidth": 1.1, "opacity": 1, "size": 121},
         "encoding": {
           "x": {"field": "x", "type": "quantitative", "scale": {"domain": [0.7, 1.8], "nice": false, "zero": false}, "axis": {"orient": "top", "values": [0.7,0.8,0.9,1.0,1.1,1.2,1.3,1.4,1.5,1.6,1.7,1.8], "labels": false, "title": null}},
           "y": {"field": "y", "type": "quantitative", "scale": {"domain": [0, 5.5], "nice": false}, "axis": {"orient": "right", "values": [0,1,2,3,4,5], "labels": false, "title": null}},
           "shape": {"field": "d", "type": "nominal", "scale": {"domain": ["損傷度Ⅰ","損傷度Ⅱ","損傷度Ⅲ","損傷度Ⅳ"], "range": ["circle", "M0,-0.95L1.08,0.9L-1.08,0.9Z", "M0,0.95L1.08,-0.9L0,-0.9ZM0,-0.9L-1.08,-0.9L0,0.95L-1.08,-0.9Z", "M-1,-0.75L-0.75,-1L0,-0.25L0.75,-1L1,-0.75L0.25,0L1,0.75L0.75,1L0,0.25L-0.75,1L-1,0.75L-0.25,0Z"]}, "legend": null},
           "fill": {"field": "d", "type": "nominal", "scale": {"domain": ["損傷度Ⅰ","損傷度Ⅱ","損傷度Ⅲ","損傷度Ⅳ"], "range": ["white", "white", "black", "black"]}, "legend": null},
           "stroke": {"field": "d", "type": "nominal", "scale": {"domain": ["損傷度Ⅰ","損傷度Ⅱ","損傷度Ⅲ","損傷度Ⅳ"], "range": ["black", "black", "black", "black"]}, "legend": null}
         }},
        {"data": {"name": "records"}, "transform": [{"filter": "datum.record === 'El Centro'"}], "mark": {"type": "text", "align": "left", "baseline": "middle", "dx": 11, "font": "Liberation Sans", "fontSize": 19, "fill": "white", "stroke": "white", "strokeWidth": 8, "strokeJoin": "round"},
         "encoding": {"x": {"datum": 0.7, "type": "quantitative", "axis": null}, "y": {"datum": 5, "type": "quantitative", "axis": null}, "text": {"field": "record"}}},
        {"data": {"name": "records"}, "transform": [{"filter": "datum.record === 'El Centro'"}], "mark": {"type": "text", "align": "left", "baseline": "middle", "dx": 11, "font": "Liberation Sans", "fontSize": 19, "fill": "black"},
         "encoding": {"x": {"datum": 0.7, "type": "quantitative", "axis": null}, "y": {"datum": 5, "type": "quantitative", "axis": null}, "text": {"field": "record"}}}
      ]
    },
    {
      "width": 303, "height": 218,
      "resolve": {"axis": {"x": "independent", "y": "independent"}},
      "layer": [
        {"data": {"name": "levels"}, "mark": {"type": "rule", "stroke": "#ff0000", "strokeWidth": 2, "strokeDash": [4, 3]}, "encoding": {"y": {"field": "level", "type": "quantitative", "axis": null}}},
        {"data": {"name": "elc_s"}, "transform": [{"filter": "isValid(datum.s)"}], "mark": {"type": "line", "clip": true, "color": "black"},
         "encoding": {
           "x": {"field": "x", "type": "quantitative", "scale": {"domain": [0.7, 1.8], "nice": false, "zero": false}, "axis": {"orient": "bottom", "values": [0.7,0.8,0.9,1.0,1.1,1.2,1.3,1.4,1.5,1.6,1.7,1.8], "labelExpr": "abs(datum.value*5-round(datum.value*5))<0.001 ? format(datum.value,'.1f') : ''", "title": null}},
           "y": {"field": "y", "type": "quantitative", "scale": {"domain": [0, 5.5], "nice": false}, "axis": {"orient": "left", "values": [0,1,2,3,4,5], "labels": false, "title": null}},
           "strokeDash": {"field": "s", "type": "nominal", "scale": {"domain": ["0","0.5","1.0","1.5","2.0","3.0","5.0"], "range": [[1,0],[6,2,1,2,1,2],[1,2],[3,2],[6,2,1.5,2],[7,4],[11,2,1,2,1,2]]}, "legend": null},
           "strokeWidth": {"condition": {"test": "datum.s === '0'", "value": 2}, "value": 1}
         }},
        {"data": {"name": "elc_s"}, "transform": [{"filter": "isValid(datum.d)"}], "mark": {"type": "point", "filled": true, "strokeWidth": 1.1, "opacity": 1, "size": 121},
         "encoding": {
           "x": {"field": "x", "type": "quantitative", "scale": {"domain": [0.7, 1.8], "nice": false, "zero": false}, "axis": {"orient": "top", "values": [0.7,0.8,0.9,1.0,1.1,1.2,1.3,1.4,1.5,1.6,1.7,1.8], "labels": false, "title": null}},
           "y": {"field": "y", "type": "quantitative", "scale": {"domain": [0, 5.5], "nice": false}, "axis": {"orient": "right", "values": [0,1,2,3,4,5], "labels": false, "title": null}},
           "shape": {"field": "d", "type": "nominal", "scale": {"domain": ["損傷度Ⅰ","損傷度Ⅱ","損傷度Ⅲ","損傷度Ⅳ"], "range": ["circle", "M0,-0.95L1.08,0.9L-1.08,0.9Z", "M0,0.95L1.08,-0.9L0,-0.9ZM0,-0.9L-1.08,-0.9L0,0.95L-1.08,-0.9Z", "M-1,-0.75L-0.75,-1L0,-0.25L0.75,-1L1,-0.75L0.25,0L1,0.75L0.75,1L0,0.25L-0.75,1L-1,0.75L-0.25,0Z"]},
             "legend": {"orient": "none", "legendX": 89, "legendY": 170, "title": null, "columns": 2, "direction": "horizontal", "columnPadding": 28, "rowPadding": 3, "symbolSize": 121, "symbolStrokeColor": "black", "symbolStrokeWidth": 1.1, "labelFont": "Noto Sans CJK JP", "labelFontSize": 13, "labelColor": "black", "labelOffset": 8, "strokeColor": "black", "fillColor": "white", "padding": 5}},
           "fill": {"field": "d", "type": "nominal", "scale": {"domain": ["損傷度Ⅰ","損傷度Ⅱ","損傷度Ⅲ","損傷度Ⅳ"], "range": ["white", "white", "black", "black"]},
             "legend": {"orient": "none", "legendX": 89, "legendY": 170, "title": null, "columns": 2, "direction": "horizontal", "columnPadding": 28, "rowPadding": 3, "symbolSize": 121, "symbolStrokeColor": "black", "symbolStrokeWidth": 1.1, "labelFont": "Noto Sans CJK JP", "labelFontSize": 13, "labelColor": "black", "labelOffset": 8, "strokeColor": "black", "fillColor": "white", "padding": 5}},
           "stroke": {"field": "d", "type": "nominal", "scale": {"domain": ["損傷度Ⅰ","損傷度Ⅱ","損傷度Ⅲ","損傷度Ⅳ"], "range": ["black", "black", "black", "black"]},
             "legend": {"orient": "none", "legendX": 89, "legendY": 170, "title": null, "columns": 2, "direction": "horizontal", "columnPadding": 28, "rowPadding": 3, "symbolSize": 121, "symbolStrokeColor": "black", "symbolStrokeWidth": 1.1, "labelFont": "Noto Sans CJK JP", "labelFontSize": 13, "labelColor": "black", "labelOffset": 8, "strokeColor": "black", "fillColor": "white", "padding": 5}}
         }},
        {"data": {"name": "records"}, "transform": [{"filter": "datum.record === 'El Centro'"}], "mark": {"type": "text", "align": "left", "baseline": "middle", "dx": 11, "font": "Liberation Sans", "fontSize": 19, "fill": "white", "stroke": "white", "strokeWidth": 8, "strokeJoin": "round"},
         "encoding": {"x": {"datum": 0.7, "type": "quantitative", "axis": null}, "y": {"datum": 5, "type": "quantitative", "axis": null}, "text": {"field": "record"}}},
        {"data": {"name": "records"}, "transform": [{"filter": "datum.record === 'El Centro'"}], "mark": {"type": "text", "align": "left", "baseline": "middle", "dx": 11, "font": "Liberation Sans", "fontSize": 19, "fill": "black"},
         "encoding": {"x": {"datum": 0.7, "type": "quantitative", "axis": null}, "y": {"datum": 5, "type": "quantitative", "axis": null}, "text": {"field": "record"}}},
        {"data": {"name": "levels"}, "mark": {"type": "text", "align": "right", "baseline": "middle", "dx": -5, "font": "Liberation Serif", "fontSize": 19, "fill": "white", "stroke": "white", "strokeWidth": 8, "strokeJoin": "round"},
         "encoding": {"x": {"datum": 1.8, "type": "quantitative", "axis": null}, "y": {"field": "level", "type": "quantitative", "axis": null}, "text": {"field": "label"}}},
        {"data": {"name": "levels"}, "mark": {"type": "text", "align": "right", "baseline": "middle", "dx": -5, "font": "Liberation Serif", "fontSize": 19, "fill": "black"},
         "encoding": {"x": {"datum": 1.8, "type": "quantitative", "axis": null}, "y": {"field": "level", "type": "quantitative", "axis": null}, "text": {"field": "label"}}}
      ]
    },
    {
      "width": 303, "height": 218,
      "resolve": {"axis": {"x": "independent", "y": "independent"}},
      "layer": [
        {"data": {"name": "levels"}, "mark": {"type": "rule", "stroke": "#ff0000", "strokeWidth": 2, "strokeDash": [4, 3]}, "encoding": {"y": {"field": "level", "type": "quantitative", "axis": null}}},
        {"data": {"name": "toh_t"}, "transform": [{"filter": "isValid(datum.s)"}], "mark": {"type": "line", "clip": true, "color": "black"},
         "encoding": {
           "x": {"field": "x", "type": "quantitative", "scale": {"domain": [0.9, 2.0], "nice": false, "zero": false}, "axis": {"orient": "bottom", "values": [0.9,1.0,1.1,1.2,1.3,1.4,1.5,1.6,1.7,1.8,1.9,2.0], "labelExpr": "abs(datum.value*5-round(datum.value*5))<0.001 ? format(datum.value,'.1f') : ''", "title": null}},
           "y": {"field": "y", "type": "quantitative", "scale": {"domain": [0, 5.5], "nice": false}, "axis": {"orient": "left", "values": [0,1,2,3,4,5], "title": "塑性率μ"}},
           "strokeDash": {"field": "s", "type": "nominal", "scale": {"domain": ["0","0.5","1.0","1.5","2.0","3.0","5.0"], "range": [[1,0],[6,2,1,2,1,2],[1,2],[3,2],[6,2,1.5,2],[7,4],[11,2,1,2,1,2]]}, "legend": null},
           "strokeWidth": {"condition": {"test": "datum.s === '0'", "value": 2}, "value": 1}
         }},
        {"data": {"name": "toh_t"}, "transform": [{"filter": "isValid(datum.d)"}], "mark": {"type": "point", "filled": true, "strokeWidth": 1.1, "opacity": 1, "size": 121},
         "encoding": {
           "x": {"field": "x", "type": "quantitative", "scale": {"domain": [0.9, 2.0], "nice": false, "zero": false}, "axis": {"orient": "top", "values": [0.9,1.0,1.1,1.2,1.3,1.4,1.5,1.6,1.7,1.8,1.9,2.0], "labels": false, "title": null}},
           "y": {"field": "y", "type": "quantitative", "scale": {"domain": [0, 5.5], "nice": false}, "axis": {"orient": "right", "values": [0,1,2,3,4,5], "labels": false, "title": null}},
           "shape": {"field": "d", "type": "nominal", "scale": {"domain": ["損傷度Ⅰ","損傷度Ⅱ","損傷度Ⅲ","損傷度Ⅳ"], "range": ["circle", "M0,-0.95L1.08,0.9L-1.08,0.9Z", "M0,0.95L1.08,-0.9L0,-0.9ZM0,-0.9L-1.08,-0.9L0,0.95L-1.08,-0.9Z", "M-1,-0.75L-0.75,-1L0,-0.25L0.75,-1L1,-0.75L0.25,0L1,0.75L0.75,1L0,0.25L-0.75,1L-1,0.75L-0.25,0Z"]}, "legend": null},
           "fill": {"field": "d", "type": "nominal", "scale": {"domain": ["損傷度Ⅰ","損傷度Ⅱ","損傷度Ⅲ","損傷度Ⅳ"], "range": ["white", "white", "black", "black"]}, "legend": null},
           "stroke": {"field": "d", "type": "nominal", "scale": {"domain": ["損傷度Ⅰ","損傷度Ⅱ","損傷度Ⅲ","損傷度Ⅳ"], "range": ["black", "black", "black", "black"]}, "legend": null}
         }},
        {"data": {"name": "records"}, "transform": [{"filter": "datum.record === 'Tohoku'"}], "mark": {"type": "text", "align": "left", "baseline": "middle", "dx": 11, "font": "Liberation Sans", "fontSize": 19, "fill": "white", "stroke": "white", "strokeWidth": 8, "strokeJoin": "round"},
         "encoding": {"x": {"datum": 0.9, "type": "quantitative", "axis": null}, "y": {"datum": 5, "type": "quantitative", "axis": null}, "text": {"field": "record"}}},
        {"data": {"name": "records"}, "transform": [{"filter": "datum.record === 'Tohoku'"}], "mark": {"type": "text", "align": "left", "baseline": "middle", "dx": 11, "font": "Liberation Sans", "fontSize": 19, "fill": "black"},
         "encoding": {"x": {"datum": 0.9, "type": "quantitative", "axis": null}, "y": {"datum": 5, "type": "quantitative", "axis": null}, "text": {"field": "record"}}}
      ]
    },
    {
      "width": 303, "height": 218,
      "resolve": {"axis": {"x": "independent", "y": "independent"}},
      "layer": [
        {"data": {"name": "levels"}, "mark": {"type": "rule", "stroke": "#ff0000", "strokeWidth": 2, "strokeDash": [4, 3]}, "encoding": {"y": {"field": "level", "type": "quantitative", "axis": null}}},
        {"data": {"name": "toh_s"}, "transform": [{"filter": "isValid(datum.s)"}], "mark": {"type": "line", "clip": true, "color": "black"},
         "encoding": {
           "x": {"field": "x", "type": "quantitative", "scale": {"domain": [0.9, 2.0], "nice": false, "zero": false}, "axis": {"orient": "bottom", "values": [0.9,1.0,1.1,1.2,1.3,1.4,1.5,1.6,1.7,1.8,1.9,2.0], "labelExpr": "abs(datum.value*5-round(datum.value*5))<0.001 ? format(datum.value,'.1f') : ''", "title": null}},
           "y": {"field": "y", "type": "quantitative", "scale": {"domain": [0, 5.5], "nice": false}, "axis": {"orient": "left", "values": [0,1,2,3,4,5], "labels": false, "title": null}},
           "strokeDash": {"field": "s", "type": "nominal", "scale": {"domain": ["0","0.5","1.0","1.5","2.0","3.0","5.0"], "range": [[1,0],[6,2,1,2,1,2],[1,2],[3,2],[6,2,1.5,2],[7,4],[11,2,1,2,1,2]]}, "legend": null},
           "strokeWidth": {"condition": {"test": "datum.s === '0'", "value": 2}, "value": 1}
         }},
        {"data": {"name": "toh_s"}, "transform": [{"filter": "isValid(datum.d)"}], "mark": {"type": "point", "filled": true, "strokeWidth": 1.1, "opacity": 1, "size": 121},
         "encoding": {
           "x": {"field": "x", "type": "quantitative", "scale": {"domain": [0.9, 2.0], "nice": false, "zero": false}, "axis": {"orient": "top", "values": [0.9,1.0,1.1,1.2,1.3,1.4,1.5,1.6,1.7,1.8,1.9,2.0], "labels": false, "title": null}},
           "y": {"field": "y", "type": "quantitative", "scale": {"domain": [0, 5.5], "nice": false}, "axis": {"orient": "right", "values": [0,1,2,3,4,5], "labels": false, "title": null}},
           "shape": {"field": "d", "type": "nominal", "scale": {"domain": ["損傷度Ⅰ","損傷度Ⅱ","損傷度Ⅲ","損傷度Ⅳ"], "range": ["circle", "M0,-0.95L1.08,0.9L-1.08,0.9Z", "M0,0.95L1.08,-0.9L0,-0.9ZM0,-0.9L-1.08,-0.9L0,0.95L-1.08,-0.9Z", "M-1,-0.75L-0.75,-1L0,-0.25L0.75,-1L1,-0.75L0.25,0L1,0.75L0.75,1L0,0.25L-0.75,1L-1,0.75L-0.25,0Z"]}, "legend": null},
           "fill": {"field": "d", "type": "nominal", "scale": {"domain": ["損傷度Ⅰ","損傷度Ⅱ","損傷度Ⅲ","損傷度Ⅳ"], "range": ["white", "white", "black", "black"]}, "legend": null},
           "stroke": {"field": "d", "type": "nominal", "scale": {"domain": ["損傷度Ⅰ","損傷度Ⅱ","損傷度Ⅲ","損傷度Ⅳ"], "range": ["black", "black", "black", "black"]}, "legend": null}
         }},
        {"data": {"name": "records"}, "transform": [{"filter": "datum.record === 'Tohoku'"}], "mark": {"type": "text", "align": "left", "baseline": "middle", "dx": 11, "font": "Liberation Sans", "fontSize": 19, "fill": "white", "stroke": "white", "strokeWidth": 8, "strokeJoin": "round"},
         "encoding": {"x": {"datum": 0.9, "type": "quantitative", "axis": null}, "y": {"datum": 5, "type": "quantitative", "axis": null}, "text": {"field": "record"}}},
        {"data": {"name": "records"}, "transform": [{"filter": "datum.record === 'Tohoku'"}], "mark": {"type": "text", "align": "left", "baseline": "middle", "dx": 11, "font": "Liberation Sans", "fontSize": 19, "fill": "black"},
         "encoding": {"x": {"datum": 0.9, "type": "quantitative", "axis": null}, "y": {"datum": 5, "type": "quantitative", "axis": null}, "text": {"field": "record"}}},
        {"data": {"name": "levels"}, "mark": {"type": "text", "align": "right", "baseline": "middle", "dx": -5, "font": "Liberation Serif", "fontSize": 19, "fill": "white", "stroke": "white", "strokeWidth": 8, "strokeJoin": "round"},
         "encoding": {"x": {"datum": 2.0, "type": "quantitative", "axis": null}, "y": {"field": "level", "type": "quantitative", "axis": null}, "text": {"field": "label"}}},
        {"data": {"name": "levels"}, "mark": {"type": "text", "align": "right", "baseline": "middle", "dx": -5, "font": "Liberation Serif", "fontSize": 19, "fill": "black"},
         "encoding": {"x": {"datum": 2.0, "type": "quantitative", "axis": null}, "y": {"field": "level", "type": "quantitative", "axis": null}, "text": {"field": "label"}}}
      ]
    },
    {
      "width": 303, "height": 218,
      "resolve": {"axis": {"x": "independent", "y": "independent"}},
      "layer": [
        {"data": {"name": "levels"}, "mark": {"type": "rule", "stroke": "#ff0000", "strokeWidth": 2, "strokeDash": [4, 3]}, "encoding": {"y": {"field": "level", "type": "quantitative", "axis": null}}},
        {"data": {"name": "kob_t"}, "transform": [{"filter": "isValid(datum.s)"}], "mark": {"type": "line", "clip": true, "color": "black"},
         "encoding": {
           "x": {"field": "x", "type": "quantitative", "scale": {"domain": [0.25, 0.7], "nice": false, "zero": false}, "axis": {"orient": "bottom", "values": [0.25,0.3,0.35,0.4,0.45,0.5,0.55,0.6,0.65,0.7], "labelExpr": "abs(datum.value*10-round(datum.value*10))<0.001 ? format(datum.value,'.1f') : ''", "title": null}},
           "y": {"field": "y", "type": "quantitative", "scale": {"domain": [0, 5.5], "nice": false}, "axis": {"orient": "left", "values": [0,1,2,3,4,5], "title": "塑性率μ"}},
           "strokeDash": {"field": "s", "type": "nominal", "scale": {"domain": ["0","0.5","1.0","1.5","2.0","3.0","5.0"], "range": [[1,0],[6,2,1,2,1,2],[1,2],[3,2],[6,2,1.5,2],[7,4],[11,2,1,2,1,2]]}, "legend": null},
           "strokeWidth": {"condition": {"test": "datum.s === '0'", "value": 2}, "value": 1}
         }},
        {"data": {"name": "kob_t"}, "transform": [{"filter": "isValid(datum.d)"}], "mark": {"type": "point", "filled": true, "strokeWidth": 1.1, "opacity": 1, "size": 121},
         "encoding": {
           "x": {"field": "x", "type": "quantitative", "scale": {"domain": [0.25, 0.7], "nice": false, "zero": false}, "axis": {"orient": "top", "values": [0.25,0.3,0.35,0.4,0.45,0.5,0.55,0.6,0.65,0.7], "labels": false, "title": null}},
           "y": {"field": "y", "type": "quantitative", "scale": {"domain": [0, 5.5], "nice": false}, "axis": {"orient": "right", "values": [0,1,2,3,4,5], "labels": false, "title": null}},
           "shape": {"field": "d", "type": "nominal", "scale": {"domain": ["損傷度Ⅰ","損傷度Ⅱ","損傷度Ⅲ","損傷度Ⅳ"], "range": ["circle", "M0,-0.95L1.08,0.9L-1.08,0.9Z", "M0,0.95L1.08,-0.9L0,-0.9ZM0,-0.9L-1.08,-0.9L0,0.95L-1.08,-0.9Z", "M-1,-0.75L-0.75,-1L0,-0.25L0.75,-1L1,-0.75L0.25,0L1,0.75L0.75,1L0,0.25L-0.75,1L-1,0.75L-0.25,0Z"]}, "legend": null},
           "fill": {"field": "d", "type": "nominal", "scale": {"domain": ["損傷度Ⅰ","損傷度Ⅱ","損傷度Ⅲ","損傷度Ⅳ"], "range": ["white", "white", "black", "black"]}, "legend": null},
           "stroke": {"field": "d", "type": "nominal", "scale": {"domain": ["損傷度Ⅰ","損傷度Ⅱ","損傷度Ⅲ","損傷度Ⅳ"], "range": ["black", "black", "black", "black"]}, "legend": null}
         }},
        {"data": {"name": "records"}, "transform": [{"filter": "datum.record === 'Kobe'"}], "mark": {"type": "text", "align": "left", "baseline": "middle", "dx": 11, "font": "Liberation Sans", "fontSize": 19, "fill": "white", "stroke": "white", "strokeWidth": 8, "strokeJoin": "round"},
         "encoding": {"x": {"datum": 0.25, "type": "quantitative", "axis": null}, "y": {"datum": 5, "type": "quantitative", "axis": null}, "text": {"field": "record"}}},
        {"data": {"name": "records"}, "transform": [{"filter": "datum.record === 'Kobe'"}], "mark": {"type": "text", "align": "left", "baseline": "middle", "dx": 11, "font": "Liberation Sans", "fontSize": 19, "fill": "black"},
         "encoding": {"x": {"datum": 0.25, "type": "quantitative", "axis": null}, "y": {"datum": 5, "type": "quantitative", "axis": null}, "text": {"field": "record"}}}
      ]
    },
    {
      "width": 303, "height": 218,
      "resolve": {"axis": {"x": "independent", "y": "independent"}},
      "layer": [
        {"data": {"name": "levels"}, "mark": {"type": "rule", "stroke": "#ff0000", "strokeWidth": 2, "strokeDash": [4, 3]}, "encoding": {"y": {"field": "level", "type": "quantitative", "axis": null}}},
        {"data": {"name": "kob_s"}, "transform": [{"filter": "isValid(datum.s)"}], "mark": {"type": "line", "clip": true, "color": "black"},
         "encoding": {
           "x": {"field": "x", "type": "quantitative", "scale": {"domain": [0.26, 0.7], "nice": false, "zero": false}, "axis": {"orient": "bottom", "values": [0.3,0.35,0.4,0.45,0.5,0.55,0.6,0.65,0.7], "labelExpr": "abs(datum.value*10-round(datum.value*10))<0.001 ? format(datum.value,'.1f') : ''", "title": null}},
           "y": {"field": "y", "type": "quantitative", "scale": {"domain": [0, 5.5], "nice": false}, "axis": {"orient": "left", "values": [0,1,2,3,4,5], "labels": false, "title": null}},
           "strokeDash": {"field": "s", "type": "nominal", "scale": {"domain": ["0","0.5","1.0","1.5","2.0","3.0","5.0"], "range": [[1,0],[6,2,1,2,1,2],[1,2],[3,2],[6,2,1.5,2],[7,4],[11,2,1,2,1,2]]}, "legend": null},
           "strokeWidth": {"condition": {"test": "datum.s === '0'", "value": 2}, "value": 1}
         }},
        {"data": {"name": "kob_s"}, "transform": [{"filter": "isValid(datum.d)"}], "mark": {"type": "point", "filled": true, "strokeWidth": 1.1, "opacity": 1, "size": 121},
         "encoding": {
           "x": {"field": "x", "type": "quantitative", "scale": {"domain": [0.26, 0.7], "nice": false, "zero": false}, "axis": {"orient": "top", "values": [0.3,0.35,0.4,0.45,0.5,0.55,0.6,0.65,0.7], "labels": false, "title": null}},
           "y": {"field": "y", "type": "quantitative", "scale": {"domain": [0, 5.5], "nice": false}, "axis": {"orient": "right", "values": [0,1,2,3,4,5], "labels": false, "title": null}},
           "shape": {"field": "d", "type": "nominal", "scale": {"domain": ["損傷度Ⅰ","損傷度Ⅱ","損傷度Ⅲ","損傷度Ⅳ"], "range": ["circle", "M0,-0.95L1.08,0.9L-1.08,0.9Z", "M0,0.95L1.08,-0.9L0,-0.9ZM0,-0.9L-1.08,-0.9L0,0.95L-1.08,-0.9Z", "M-1,-0.75L-0.75,-1L0,-0.25L0.75,-1L1,-0.75L0.25,0L1,0.75L0.75,1L0,0.25L-0.75,1L-1,0.75L-0.25,0Z"]}, "legend": null},
           "fill": {"field": "d", "type": "nominal", "scale": {"domain": ["損傷度Ⅰ","損傷度Ⅱ","損傷度Ⅲ","損傷度Ⅳ"], "range": ["white", "white", "black", "black"]}, "legend": null},
           "stroke": {"field": "d", "type": "nominal", "scale": {"domain": ["損傷度Ⅰ","損傷度Ⅱ","損傷度Ⅲ","損傷度Ⅳ"], "range": ["black", "black", "black", "black"]}, "legend": null}
         }},
        {"data": {"name": "records"}, "transform": [{"filter": "datum.record === 'Kobe'"}], "mark": {"type": "text", "align": "left", "baseline": "middle", "dx": 11, "font": "Liberation Sans", "fontSize": 19, "fill": "white", "stroke": "white", "strokeWidth": 8, "strokeJoin": "round"},
         "encoding": {"x": {"datum": 0.26, "type": "quantitative", "axis": null}, "y": {"datum": 5, "type": "quantitative", "axis": null}, "text": {"field": "record"}}},
        {"data": {"name": "records"}, "transform": [{"filter": "datum.record === 'Kobe'"}], "mark": {"type": "text", "align": "left", "baseline": "middle", "dx": 11, "font": "Liberation Sans", "fontSize": 19, "fill": "black"},
         "encoding": {"x": {"datum": 0.26, "type": "quantitative", "axis": null}, "y": {"datum": 5, "type": "quantitative", "axis": null}, "text": {"field": "record"}}},
        {"data": {"name": "levels"}, "mark": {"type": "text", "align": "right", "baseline": "middle", "dx": -5, "font": "Liberation Serif", "fontSize": 19, "fill": "white", "stroke": "white", "strokeWidth": 8, "strokeJoin": "round"},
         "encoding": {"x": {"datum": 0.7, "type": "quantitative", "axis": null}, "y": {"field": "level", "type": "quantitative", "axis": null}, "text": {"field": "label"}}},
        {"data": {"name": "levels"}, "mark": {"type": "text", "align": "right", "baseline": "middle", "dx": -5, "font": "Liberation Serif", "fontSize": 19, "fill": "black"},
         "encoding": {"x": {"datum": 0.7, "type": "quantitative", "axis": null}, "y": {"field": "level", "type": "quantitative", "axis": null}, "text": {"field": "label"}}}
      ]
    },
    {
      "width": 303, "height": 218,
      "resolve": {"axis": {"x": "independent", "y": "independent"}},
      "layer": [
        {"data": {"name": "levels"}, "mark": {"type": "rule", "stroke": "#ff0000", "strokeWidth": 2, "strokeDash": [4, 3]}, "encoding": {"y": {"field": "level", "type": "quantitative", "axis": null}}},
        {"data": {"name": "fki_t"}, "transform": [{"filter": "isValid(datum.s)"}], "mark": {"type": "line", "clip": true, "color": "black"},
         "encoding": {
           "x": {"field": "x", "type": "quantitative", "scale": {"domain": [0.25, 0.9], "nice": false, "zero": false}, "axis": {"orient": "bottom", "values": [0.25,0.3,0.35,0.4,0.45,0.5,0.55,0.6,0.65,0.7,0.75,0.8,0.85,0.9], "labelExpr": "abs(datum.value*10-round(datum.value*10))<0.001 ? format(datum.value,'.1f') : ''", "title": null}},
           "y": {"field": "y", "type": "quantitative", "scale": {"domain": [0, 5.5], "nice": false}, "axis": {"orient": "left", "values": [0,1,2,3,4,5], "title": "塑性率μ"}},
           "strokeDash": {"field": "s", "type": "nominal", "scale": {"domain": ["0","0.5","1.0","1.5","2.0","3.0","5.0"], "range": [[1,0],[6,2,1,2,1,2],[1,2],[3,2],[6,2,1.5,2],[7,4],[11,2,1,2,1,2]]}, "legend": null},
           "strokeWidth": {"condition": {"test": "datum.s === '0'", "value": 2}, "value": 1}
         }},
        {"data": {"name": "fki_t"}, "transform": [{"filter": "isValid(datum.d)"}], "mark": {"type": "point", "filled": true, "strokeWidth": 1.1, "opacity": 1, "size": 121},
         "encoding": {
           "x": {"field": "x", "type": "quantitative", "scale": {"domain": [0.25, 0.9], "nice": false, "zero": false}, "axis": {"orient": "top", "values": [0.25,0.3,0.35,0.4,0.45,0.5,0.55,0.6,0.65,0.7,0.75,0.8,0.85,0.9], "labels": false, "title": null}},
           "y": {"field": "y", "type": "quantitative", "scale": {"domain": [0, 5.5], "nice": false}, "axis": {"orient": "right", "values": [0,1,2,3,4,5], "labels": false, "title": null}},
           "shape": {"field": "d", "type": "nominal", "scale": {"domain": ["損傷度Ⅰ","損傷度Ⅱ","損傷度Ⅲ","損傷度Ⅳ"], "range": ["circle", "M0,-0.95L1.08,0.9L-1.08,0.9Z", "M0,0.95L1.08,-0.9L0,-0.9ZM0,-0.9L-1.08,-0.9L0,0.95L-1.08,-0.9Z", "M-1,-0.75L-0.75,-1L0,-0.25L0.75,-1L1,-0.75L0.25,0L1,0.75L0.75,1L0,0.25L-0.75,1L-1,0.75L-0.25,0Z"]}, "legend": null},
           "fill": {"field": "d", "type": "nominal", "scale": {"domain": ["損傷度Ⅰ","損傷度Ⅱ","損傷度Ⅲ","損傷度Ⅳ"], "range": ["white", "white", "black", "black"]}, "legend": null},
           "stroke": {"field": "d", "type": "nominal", "scale": {"domain": ["損傷度Ⅰ","損傷度Ⅱ","損傷度Ⅲ","損傷度Ⅳ"], "range": ["black", "black", "black", "black"]}, "legend": null}
         }},
        {"data": {"name": "records"}, "transform": [{"filter": "datum.record === 'FkiN30W'"}], "mark": {"type": "text", "align": "left", "baseline": "middle", "dx": 11, "font": "Liberation Sans", "fontSize": 19, "fill": "white", "stroke": "white", "strokeWidth": 8, "strokeJoin": "round"},
         "encoding": {"x": {"datum": 0.25, "type": "quantitative", "axis": null}, "y": {"datum": 5, "type": "quantitative", "axis": null}, "text": {"field": "record"}}},
        {"data": {"name": "records"}, "transform": [{"filter": "datum.record === 'FkiN30W'"}], "mark": {"type": "text", "align": "left", "baseline": "middle", "dx": 11, "font": "Liberation Sans", "fontSize": 19, "fill": "black"},
         "encoding": {"x": {"datum": 0.25, "type": "quantitative", "axis": null}, "y": {"datum": 5, "type": "quantitative", "axis": null}, "text": {"field": "record"}}}
      ]
    },
    {
      "width": 303, "height": 218,
      "resolve": {"axis": {"x": "independent", "y": "independent"}},
      "layer": [
        {"data": {"name": "levels"}, "mark": {"type": "rule", "stroke": "#ff0000", "strokeWidth": 2, "strokeDash": [4, 3]}, "encoding": {"y": {"field": "level", "type": "quantitative", "axis": null}}},
        {"data": {"name": "fki_s"}, "transform": [{"filter": "isValid(datum.s)"}], "mark": {"type": "line", "clip": true, "color": "black"},
         "encoding": {
           "x": {"field": "x", "type": "quantitative", "scale": {"domain": [0.25, 0.9], "nice": false, "zero": false}, "axis": {"orient": "bottom", "values": [0.25,0.3,0.35,0.4,0.45,0.5,0.55,0.6,0.65,0.7,0.75,0.8,0.85,0.9], "labelExpr": "abs(datum.value*10-round(datum.value*10))<0.001 ? format(datum.value,'.1f') : ''", "title": null}},
           "y": {"field": "y", "type": "quantitative", "scale": {"domain": [0, 5.5], "nice": false}, "axis": {"orient": "left", "values": [0,1,2,3,4,5], "labels": false, "title": null}},
           "strokeDash": {"field": "s", "type": "nominal", "scale": {"domain": ["0","0.5","1.0","1.5","2.0","3.0","5.0"], "range": [[1,0],[6,2,1,2,1,2],[1,2],[3,2],[6,2,1.5,2],[7,4],[11,2,1,2,1,2]]}, "legend": null},
           "strokeWidth": {"condition": {"test": "datum.s === '0'", "value": 2}, "value": 1}
         }},
        {"data": {"name": "fki_s"}, "transform": [{"filter": "isValid(datum.d)"}], "mark": {"type": "point", "filled": true, "strokeWidth": 1.1, "opacity": 1, "size": 121},
         "encoding": {
           "x": {"field": "x", "type": "quantitative", "scale": {"domain": [0.25, 0.9], "nice": false, "zero": false}, "axis": {"orient": "top", "values": [0.25,0.3,0.35,0.4,0.45,0.5,0.55,0.6,0.65,0.7,0.75,0.8,0.85,0.9], "labels": false, "title": null}},
           "y": {"field": "y", "type": "quantitative", "scale": {"domain": [0, 5.5], "nice": false}, "axis": {"orient": "right", "values": [0,1,2,3,4,5], "labels": false, "title": null}},
           "shape": {"field": "d", "type": "nominal", "scale": {"domain": ["損傷度Ⅰ","損傷度Ⅱ","損傷度Ⅲ","損傷度Ⅳ"], "range": ["circle", "M0,-0.95L1.08,0.9L-1.08,0.9Z", "M0,0.95L1.08,-0.9L0,-0.9ZM0,-0.9L-1.08,-0.9L0,0.95L-1.08,-0.9Z", "M-1,-0.75L-0.75,-1L0,-0.25L0.75,-1L1,-0.75L0.25,0L1,0.75L0.75,1L0,0.25L-0.75,1L-1,0.75L-0.25,0Z"]}, "legend": null},
           "fill": {"field": "d", "type": "nominal", "scale": {"domain": ["損傷度Ⅰ","損傷度Ⅱ","損傷度Ⅲ","損傷度Ⅳ"], "range": ["white", "white", "black", "black"]}, "legend": null},
           "stroke": {"field": "d", "type": "nominal", "scale": {"domain": ["損傷度Ⅰ","損傷度Ⅱ","損傷度Ⅲ","損傷度Ⅳ"], "range": ["black", "black", "black", "black"]}, "legend": null}
         }},
        {"data": {"name": "records"}, "transform": [{"filter": "datum.record === 'FkiN30W'"}], "mark": {"type": "text", "align": "left", "baseline": "middle", "dx": 11, "font": "Liberation Sans", "fontSize": 19, "fill": "white", "stroke": "white", "strokeWidth": 8, "strokeJoin": "round"},
         "encoding": {"x": {"datum": 0.25, "type": "quantitative", "axis": null}, "y": {"datum": 5, "type": "quantitative", "axis": null}, "text": {"field": "record"}}},
        {"data": {"name": "records"}, "transform": [{"filter": "datum.record === 'FkiN30W'"}], "mark": {"type": "text", "align": "left", "baseline": "middle", "dx": 11, "font": "Liberation Sans", "fontSize": 19, "fill": "black"},
         "encoding": {"x": {"datum": 0.25, "type": "quantitative", "axis": null}, "y": {"datum": 5, "type": "quantitative", "axis": null}, "text": {"field": "record"}}},
        {"data": {"name": "levels"}, "mark": {"type": "text", "align": "right", "baseline": "middle", "dx": -5, "font": "Liberation Serif", "fontSize": 19, "fill": "white", "stroke": "white", "strokeWidth": 8, "strokeJoin": "round"},
         "encoding": {"x": {"datum": 0.9, "type": "quantitative", "axis": null}, "y": {"field": "level", "type": "quantitative", "axis": null}, "text": {"field": "label"}}},
        {"data": {"name": "levels"}, "mark": {"type": "text", "align": "right", "baseline": "middle", "dx": -5, "font": "Liberation Serif", "fontSize": 19, "fill": "black"},
         "encoding": {"x": {"datum": 0.9, "type": "quantitative", "axis": null}, "y": {"field": "level", "type": "quantitative", "axis": null}, "text": {"field": "label"}}}
      ]
    },
    {
      "width": 303, "height": 218,
      "resolve": {"axis": {"x": "independent", "y": "independent"}},
      "layer": [
        {"data": {"name": "levels"}, "mark": {"type": "rule", "stroke": "#ff0000", "strokeWidth": 2, "strokeDash": [4, 3]}, "encoding": {"y": {"field": "level", "type": "quantitative", "axis": null}}},
        {"data": {"name": "rin_t"}, "transform": [{"filter": "isValid(datum.s)"}], "mark": {"type": "line", "clip": true, "color": "black"},
         "encoding": {
           "x": {"field": "x", "type": "quantitative", "scale": {"domain": [0.65, 1.4], "nice": false, "zero": false}, "axis": {"orient": "bottom", "values": [0.65,0.7,0.75,0.8,0.85,0.9,0.95,1.0,1.05,1.1,1.15,1.2,1.25,1.3,1.35,1.4], "labelExpr": "abs(datum.value*10-round(datum.value*10))<0.001 ? format(datum.value,'.1f') : ''", "title": null}},
           "y": {"field": "y", "type": "quantitative", "scale": {"domain": [0, 5.5], "nice": false}, "axis": {"orient": "left", "values": [0,1,2,3,4,5], "title": "塑性率μ"}},
           "strokeDash": {"field": "s", "type": "nominal", "scale": {"domain": ["0","0.5","1.0","1.5","2.0","3.0","5.0"], "range": [[1,0],[6,2,1,2,1,2],[1,2],[3,2],[6,2,1.5,2],[7,4],[11,2,1,2,1,2]]}, "legend": null},
           "strokeWidth": {"condition": {"test": "datum.s === '0'", "value": 2}, "value": 1}
         }},
        {"data": {"name": "rin_t"}, "transform": [{"filter": "isValid(datum.d)"}], "mark": {"type": "point", "filled": true, "strokeWidth": 1.1, "opacity": 1, "size": 121},
         "encoding": {
           "x": {"field": "x", "type": "quantitative", "scale": {"domain": [0.65, 1.4], "nice": false, "zero": false}, "axis": {"orient": "top", "values": [0.65,0.7,0.75,0.8,0.85,0.9,0.95,1.0,1.05,1.1,1.15,1.2,1.25,1.3,1.35,1.4], "labels": false, "title": null}},
           "y": {"field": "y", "type": "quantitative", "scale": {"domain": [0, 5.5], "nice": false}, "axis": {"orient": "right", "values": [0,1,2,3,4,5], "labels": false, "title": null}},
           "shape": {"field": "d", "type": "nominal", "scale": {"domain": ["損傷度Ⅰ","損傷度Ⅱ","損傷度Ⅲ","損傷度Ⅳ"], "range": ["circle", "M0,-0.95L1.08,0.9L-1.08,0.9Z", "M0,0.95L1.08,-0.9L0,-0.9ZM0,-0.9L-1.08,-0.9L0,0.95L-1.08,-0.9Z", "M-1,-0.75L-0.75,-1L0,-0.25L0.75,-1L1,-0.75L0.25,0L1,0.75L0.75,1L0,0.25L-0.75,1L-1,0.75L-0.25,0Z"]}, "legend": null},
           "fill": {"field": "d", "type": "nominal", "scale": {"domain": ["損傷度Ⅰ","損傷度Ⅱ","損傷度Ⅲ","損傷度Ⅳ"], "range": ["white", "white", "black", "black"]}, "legend": null},
           "stroke": {"field": "d", "type": "nominal", "scale": {"domain": ["損傷度Ⅰ","損傷度Ⅱ","損傷度Ⅲ","損傷度Ⅳ"], "range": ["black", "black", "black", "black"]}, "legend": null}
         }},
        {"data": {"name": "records"}, "transform": [{"filter": "datum.record === 'Rinkai-Kokujiha'"}], "mark": {"type": "text", "align": "left", "baseline": "middle", "dx": 11, "font": "Liberation Sans", "fontSize": 19, "fill": "white", "stroke": "white", "strokeWidth": 8, "strokeJoin": "round"},
         "encoding": {"x": {"datum": 0.65, "type": "quantitative", "axis": null}, "y": {"datum": 5, "type": "quantitative", "axis": null}, "text": {"field": "record"}}},
        {"data": {"name": "records"}, "transform": [{"filter": "datum.record === 'Rinkai-Kokujiha'"}], "mark": {"type": "text", "align": "left", "baseline": "middle", "dx": 11, "font": "Liberation Sans", "fontSize": 19, "fill": "black"},
         "encoding": {"x": {"datum": 0.65, "type": "quantitative", "axis": null}, "y": {"datum": 5, "type": "quantitative", "axis": null}, "text": {"field": "record"}}}
      ]
    },
    {
      "width": 303, "height": 218,
      "resolve": {"axis": {"x": "independent", "y": "independent"}},
      "layer": [
        {"data": {"name": "levels"}, "mark": {"type": "rule", "stroke": "#ff0000", "strokeWidth": 2, "strokeDash": [4, 3]}, "encoding": {"y": {"field": "level", "type": "quantitative", "axis": null}}},
        {"data": {"name": "rin_s"}, "transform": [{"filter": "isValid(datum.s)"}], "mark": {"type": "line", "clip": true, "color": "black"},
         "encoding": {
           "x": {"field": "x", "type": "quantitative", "scale": {"domain": [0.65, 1.4], "nice": false, "zero": false}, "axis": {"orient": "bottom", "values": [0.65,0.7,0.75,0.8,0.85,0.9,0.95,1.0,1.05,1.1,1.15,1.2,1.25,1.3,1.35,1.4], "labelExpr": "abs(datum.value*10-round(datum.value*10))<0.001 ? format(datum.value,'.1f') : ''", "title": null}},
           "y": {"field": "y", "type": "quantitative", "scale": {"domain": [0, 5.5], "nice": false}, "axis": {"orient": "left", "values": [0,1,2,3,4,5], "labels": false, "title": null}},
           "strokeDash": {"field": "s", "type": "nominal", "scale": {"domain": ["0","0.5","1.0","1.5","2.0","3.0","5.0"], "range": [[1,0],[6,2,1,2,1,2],[1,2],[3,2],[6,2,1.5,2],[7,4],[11,2,1,2,1,2]]}, "legend": null},
           "strokeWidth": {"condition": {"test": "datum.s === '0'", "value": 2}, "value": 1}
         }},
        {"data": {"name": "rin_s"}, "transform": [{"filter": "isValid(datum.d)"}], "mark": {"type": "point", "filled": true, "strokeWidth": 1.1, "opacity": 1, "size": 121},
         "encoding": {
           "x": {"field": "x", "type": "quantitative", "scale": {"domain": [0.65, 1.4], "nice": false, "zero": false}, "axis": {"orient": "top", "values": [0.65,0.7,0.75,0.8,0.85,0.9,0.95,1.0,1.05,1.1,1.15,1.2,1.25,1.3,1.35,1.4], "labels": false, "title": null}},
           "y": {"field": "y", "type": "quantitative", "scale": {"domain": [0, 5.5], "nice": false}, "axis": {"orient": "right", "values": [0,1,2,3,4,5], "labels": false, "title": null}},
           "shape": {"field": "d", "type": "nominal", "scale": {"domain": ["損傷度Ⅰ","損傷度Ⅱ","損傷度Ⅲ","損傷度Ⅳ"], "range": ["circle", "M0,-0.95L1.08,0.9L-1.08,0.9Z", "M0,0.95L1.08,-0.9L0,-0.9ZM0,-0.9L-1.08,-0.9L0,0.95L-1.08,-0.9Z", "M-1,-0.75L-0.75,-1L0,-0.25L0.75,-1L1,-0.75L0.25,0L1,0.75L0.75,1L0,0.25L-0.75,1L-1,0.75L-0.25,0Z"]}, "legend": null},
           "fill": {"field": "d", "type": "nominal", "scale": {"domain": ["損傷度Ⅰ","損傷度Ⅱ","損傷度Ⅲ","損傷度Ⅳ"], "range": ["white", "white", "black", "black"]}, "legend": null},
           "stroke": {"field": "d", "type": "nominal", "scale": {"domain": ["損傷度Ⅰ","損傷度Ⅱ","損傷度Ⅲ","損傷度Ⅳ"], "range": ["black", "black", "black", "black"]}, "legend": null}
         }},
        {"data": {"name": "records"}, "transform": [{"filter": "datum.record === 'Rinkai-Kokujiha'"}], "mark": {"type": "text", "align": "left", "baseline": "middle", "dx": 11, "font": "Liberation Sans", "fontSize": 19, "fill": "white", "stroke": "white", "strokeWidth": 8, "strokeJoin": "round"},
         "encoding": {"x": {"datum": 0.65, "type": "quantitative", "axis": null}, "y": {"datum": 5, "type": "quantitative", "axis": null}, "text": {"field": "record"}}},
        {"data": {"name": "records"}, "transform": [{"filter": "datum.record === 'Rinkai-Kokujiha'"}], "mark": {"type": "text", "align": "left", "baseline": "middle", "dx": 11, "font": "Liberation Sans", "fontSize": 19, "fill": "black"},
         "encoding": {"x": {"datum": 0.65, "type": "quantitative", "axis": null}, "y": {"datum": 5, "type": "quantitative", "axis": null}, "text": {"field": "record"}}},
        {"data": {"name": "levels"}, "mark": {"type": "text", "align": "right", "baseline": "middle", "dx": -5, "font": "Liberation Serif", "fontSize": 19, "fill": "white", "stroke": "white", "strokeWidth": 8, "strokeJoin": "round"},
         "encoding": {"x": {"datum": 1.4, "type": "quantitative", "axis": null}, "y": {"field": "level", "type": "quantitative", "axis": null}, "text": {"field": "label"}}},
        {"data": {"name": "levels"}, "mark": {"type": "text", "align": "right", "baseline": "middle", "dx": -5, "font": "Liberation Serif", "fontSize": 19, "fill": "black"},
         "encoding": {"x": {"datum": 1.4, "type": "quantitative", "axis": null}, "y": {"field": "level", "type": "quantitative", "axis": null}, "text": {"field": "label"}}}
      ]
    },
    {
      "width": 303, "height": 218,
      "title": {"text": "Takeda Model", "orient": "bottom", "frame": "group", "anchor": "middle", "font": "Liberation Serif", "fontSize": 21, "fontWeight": "normal", "color": "black", "offset": 14},
      "resolve": {"axis": {"x": "independent", "y": "independent"}},
      "layer": [
        {"data": {"name": "levels"}, "mark": {"type": "rule", "stroke": "#ff0000", "strokeWidth": 2, "strokeDash": [4, 3]}, "encoding": {"y": {"field": "level", "type": "quantitative", "axis": null}}},
        {"data": {"name": "ran_t"}, "transform": [{"filter": "isValid(datum.s)"}], "mark": {"type": "line", "clip": true, "color": "black"},
         "encoding": {
           "x": {"field": "x", "type": "quantitative", "scale": {"domain": [0.65, 1.6], "nice": false, "zero": false}, "axis": {"orient": "bottom", "values": [0.7,0.8,0.9,1.0,1.1,1.2,1.3,1.4,1.5,1.6], "labelExpr": "abs(datum.value*5-round(datum.value*5))<0.001 ? format(datum.value,'.1f') : ''", "title": "地震波倍率"}},
           "y": {"field": "y", "type": "quantitative", "scale": {"domain": [0, 5.5], "nice": false}, "axis": {"orient": "left", "values": [0,1,2,3,4,5], "title": "塑性率μ"}},
           "strokeDash": {"field": "s", "type": "nominal", "scale": {"domain": ["0","0.5","1.0","1.5","2.0","3.0","5.0"], "range": [[1,0],[6,2,1,2,1,2],[1,2],[3,2],[6,2,1.5,2],[7,4],[11,2,1,2,1,2]]}, "legend": null},
           "strokeWidth": {"condition": {"test": "datum.s === '0'", "value": 2}, "value": 1}
         }},
        {"data": {"name": "ran_t"}, "transform": [{"filter": "isValid(datum.d)"}], "mark": {"type": "point", "filled": true, "strokeWidth": 1.1, "opacity": 1, "size": 121},
         "encoding": {
           "x": {"field": "x", "type": "quantitative", "scale": {"domain": [0.65, 1.6], "nice": false, "zero": false}, "axis": {"orient": "top", "values": [0.7,0.8,0.9,1.0,1.1,1.2,1.3,1.4,1.5,1.6], "labels": false, "title": null}},
           "y": {"field": "y", "type": "quantitative", "scale": {"domain": [0, 5.5], "nice": false}, "axis": {"orient": "right", "values": [0,1,2,3,4,5], "labels": false, "title": null}},
           "shape": {"field": "d", "type": "nominal", "scale": {"domain": ["損傷度Ⅰ","損傷度Ⅱ","損傷度Ⅲ","損傷度Ⅳ"], "range": ["circle", "M0,-0.95L1.08,0.9L-1.08,0.9Z", "M0,0.95L1.08,-0.9L0,-0.9ZM0,-0.9L-1.08,-0.9L0,0.95L-1.08,-0.9Z", "M-1,-0.75L-0.75,-1L0,-0.25L0.75,-1L1,-0.75L0.25,0L1,0.75L0.75,1L0,0.25L-0.75,1L-1,0.75L-0.25,0Z"]}, "legend": null},
           "fill": {"field": "d", "type": "nominal", "scale": {"domain": ["損傷度Ⅰ","損傷度Ⅱ","損傷度Ⅲ","損傷度Ⅳ"], "range": ["white", "white", "black", "black"]}, "legend": null},
           "stroke": {"field": "d", "type": "nominal", "scale": {"domain": ["損傷度Ⅰ","損傷度Ⅱ","損傷度Ⅲ","損傷度Ⅳ"], "range": ["black", "black", "black", "black"]}, "legend": null}
         }},
        {"data": {"name": "records"}, "transform": [{"filter": "datum.record === 'Random-Kokujiha'"}], "mark": {"type": "text", "align": "left", "baseline": "middle", "dx": 11, "font": "Liberation Sans", "fontSize": 19, "fill": "white", "stroke": "white", "strokeWidth": 8, "strokeJoin": "round"},
         "encoding": {"x": {"datum": 0.65, "type": "quantitative", "axis": null}, "y": {"datum": 5, "type": "quantitative", "axis": null}, "text": {"field": "record"}}},
        {"data": {"name": "records"}, "transform": [{"filter": "datum.record === 'Random-Kokujiha'"}], "mark": {"type": "text", "align": "left", "baseline": "middle", "dx": 11, "font": "Liberation Sans", "fontSize": 19, "fill": "black"},
         "encoding": {"x": {"datum": 0.65, "type": "quantitative", "axis": null}, "y": {"datum": 5, "type": "quantitative", "axis": null}, "text": {"field": "record"}}}
      ]
    },
    {
      "width": 303, "height": 218,
      "title": {"text": "Takeda Slip Model", "orient": "bottom", "frame": "group", "anchor": "middle", "font": "Liberation Serif", "fontSize": 21, "fontWeight": "normal", "color": "black", "offset": 14},
      "resolve": {"axis": {"x": "independent", "y": "independent"}},
      "layer": [
        {"data": {"name": "levels"}, "mark": {"type": "rule", "stroke": "#ff0000", "strokeWidth": 2, "strokeDash": [4, 3]}, "encoding": {"y": {"field": "level", "type": "quantitative", "axis": null}}},
        {"data": {"name": "ran_s"}, "transform": [{"filter": "isValid(datum.s)"}], "mark": {"type": "line", "clip": true, "color": "black"},
         "encoding": {
           "x": {"field": "x", "type": "quantitative", "scale": {"domain": [0.65, 1.6], "nice": false, "zero": false}, "axis": {"orient": "bottom", "values": [0.7,0.8,0.9,1.0,1.1,1.2,1.3,1.4,1.5,1.6], "labelExpr": "abs(datum.value*5-round(datum.value*5))<0.001 ? format(datum.value,'.1f') : ''", "title": "地震波倍率"}},
           "y": {"field": "y", "type": "quantitative", "scale": {"domain": [0, 5.5], "nice": false}, "axis": {"orient": "left", "values": [0,1,2,3,4,5], "labels": false, "title": null}},
           "strokeDash": {"field": "s", "type": "nominal", "scale": {"domain": ["0","0.5","1.0","1.5","2.0","3.0","5.0"], "range": [[1,0],[6,2,1,2,1,2],[1,2],[3,2],[6,2,1.5,2],[7,4],[11,2,1,2,1,2]]}, "legend": null},
           "strokeWidth": {"condition": {"test": "datum.s === '0'", "value": 2}, "value": 1}
         }},
        {"data": {"name": "ran_s"}, "transform": [{"filter": "isValid(datum.d)"}], "mark": {"type": "point", "filled": true, "strokeWidth": 1.1, "opacity": 1, "size": 121},
         "encoding": {
           "x": {"field": "x", "type": "quantitative", "scale": {"domain": [0.65, 1.6], "nice": false, "zero": false}, "axis": {"orient": "top", "values": [0.7,0.8,0.9,1.0,1.1,1.2,1.3,1.4,1.5,1.6], "labels": false, "title": null}},
           "y": {"field": "y", "type": "quantitative", "scale": {"domain": [0, 5.5], "nice": false}, "axis": {"orient": "right", "values": [0,1,2,3,4,5], "labels": false, "title": null}},
           "shape": {"field": "d", "type": "nominal", "scale": {"domain": ["損傷度Ⅰ","損傷度Ⅱ","損傷度Ⅲ","損傷度Ⅳ"], "range": ["circle", "M0,-0.95L1.08,0.9L-1.08,0.9Z", "M0,0.95L1.08,-0.9L0,-0.9ZM0,-0.9L-1.08,-0.9L0,0.95L-1.08,-0.9Z", "M-1,-0.75L-0.75,-1L0,-0.25L0.75,-1L1,-0.75L0.25,0L1,0.75L0.75,1L0,0.25L-0.75,1L-1,0.75L-0.25,0Z"]}, "legend": null},
           "fill": {"field": "d", "type": "nominal", "scale": {"domain": ["損傷度Ⅰ","損傷度Ⅱ","損傷度Ⅲ","損傷度Ⅳ"], "range": ["white", "white", "black", "black"]}, "legend": null},
           "stroke": {"field": "d", "type": "nominal", "scale": {"domain": ["損傷度Ⅰ","損傷度Ⅱ","損傷度Ⅲ","損傷度Ⅳ"], "range": ["black", "black", "black", "black"]}, "legend": null}
         }},
        {"data": {"name": "records"}, "transform": [{"filter": "datum.record === 'Random-Kokujiha'"}], "mark": {"type": "text", "align": "left", "baseline": "middle", "dx": 11, "font": "Liberation Sans", "fontSize": 19, "fill": "white", "stroke": "white", "strokeWidth": 8, "strokeJoin": "round"},
         "encoding": {"x": {"datum": 0.65, "type": "quantitative", "axis": null}, "y": {"datum": 5, "type": "quantitative", "axis": null}, "text": {"field": "record"}}},
        {"data": {"name": "records"}, "transform": [{"filter": "datum.record === 'Random-Kokujiha'"}], "mark": {"type": "text", "align": "left", "baseline": "middle", "dx": 11, "font": "Liberation Sans", "fontSize": 19, "fill": "black"},
         "encoding": {"x": {"datum": 0.65, "type": "quantitative", "axis": null}, "y": {"datum": 5, "type": "quantitative", "axis": null}, "text": {"field": "record"}}},
        {"data": {"name": "levels"}, "mark": {"type": "text", "align": "right", "baseline": "middle", "dx": -5, "font": "Liberation Serif", "fontSize": 19, "fill": "white", "stroke": "white", "strokeWidth": 8, "strokeJoin": "round"},
         "encoding": {"x": {"datum": 1.6, "type": "quantitative", "axis": null}, "y": {"field": "level", "type": "quantitative", "axis": null}, "text": {"field": "label"}}},
        {"data": {"name": "levels"}, "mark": {"type": "text", "align": "right", "baseline": "middle", "dx": -5, "font": "Liberation Serif", "fontSize": 19, "fill": "black"},
         "encoding": {"x": {"datum": 1.6, "type": "quantitative", "axis": null}, "y": {"field": "level", "type": "quantitative", "axis": null}, "text": {"field": "label"}}}
      ]
    }
  ]
}
